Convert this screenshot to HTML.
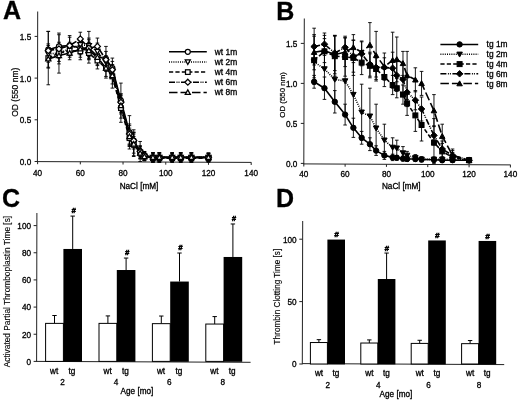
<!DOCTYPE html>
<html><head><meta charset="utf-8"><style>
html,body{margin:0;padding:0;background:#fff;}
body{width:520px;height:402px;overflow:hidden;}
svg{display:block;}
text{font-family:"Liberation Sans", sans-serif;}
body{-webkit-font-smoothing:antialiased;}
.w{will-change:transform;transform:translateZ(0);filter:blur(0.3px);}
</style></head><body><div class="w">
<svg width="520" height="402" viewBox="0 0 520 402">
<rect width="520" height="402" fill="#fff"/>
<text x="3" y="19.2" font-size="25" text-anchor="start" font-weight="bold" fill="#000" stroke="#000" stroke-width="0.3">A</text>
<line x1="37.7" y1="11.5" x2="37.4" y2="162" stroke="#222" stroke-width="1" stroke-linecap="butt"/>
<line x1="37.4" y1="161.6" x2="251.3" y2="162.4" stroke="#222" stroke-width="1" stroke-linecap="butt"/>
<line x1="34.6" y1="161.5" x2="37.6" y2="161.5" stroke="#222" stroke-width="1" stroke-linecap="butt"/>
<text x="31.2" y="164.9" font-size="8.2" text-anchor="end" font-weight="normal" fill="#000" stroke="#000" stroke-width="0.3">0.0</text>
<line x1="34.6" y1="119.8" x2="37.6" y2="119.8" stroke="#222" stroke-width="1" stroke-linecap="butt"/>
<text x="31.2" y="123.2" font-size="8.2" text-anchor="end" font-weight="normal" fill="#000" stroke="#000" stroke-width="0.3">0.5</text>
<line x1="34.6" y1="78.1" x2="37.6" y2="78.1" stroke="#222" stroke-width="1" stroke-linecap="butt"/>
<text x="31.2" y="81.5" font-size="8.2" text-anchor="end" font-weight="normal" fill="#000" stroke="#000" stroke-width="0.3">1.0</text>
<line x1="34.6" y1="36.4" x2="37.6" y2="36.4" stroke="#222" stroke-width="1" stroke-linecap="butt"/>
<text x="31.2" y="39.8" font-size="8.2" text-anchor="end" font-weight="normal" fill="#000" stroke="#000" stroke-width="0.3">1.5</text>
<line x1="37.6" y1="161.6" x2="37.6" y2="164.2" stroke="#222" stroke-width="1" stroke-linecap="butt"/>
<text x="37.6" y="175.6" font-size="8.2" text-anchor="middle" font-weight="normal" fill="#000" stroke="#000" stroke-width="0.3">40</text>
<line x1="80.32" y1="161.76" x2="80.32" y2="164.36" stroke="#222" stroke-width="1" stroke-linecap="butt"/>
<text x="80.32" y="175.6" font-size="8.2" text-anchor="middle" font-weight="normal" fill="#000" stroke="#000" stroke-width="0.3">60</text>
<line x1="123.04" y1="161.92" x2="123.04" y2="164.52" stroke="#222" stroke-width="1" stroke-linecap="butt"/>
<text x="123.04" y="175.6" font-size="8.2" text-anchor="middle" font-weight="normal" fill="#000" stroke="#000" stroke-width="0.3">80</text>
<line x1="165.76" y1="162.07" x2="165.76" y2="164.67" stroke="#222" stroke-width="1" stroke-linecap="butt"/>
<text x="165.76" y="175.6" font-size="8.2" text-anchor="middle" font-weight="normal" fill="#000" stroke="#000" stroke-width="0.3">100</text>
<line x1="208.48" y1="162.23" x2="208.48" y2="164.83" stroke="#222" stroke-width="1" stroke-linecap="butt"/>
<text x="208.48" y="175.6" font-size="8.2" text-anchor="middle" font-weight="normal" fill="#000" stroke="#000" stroke-width="0.3">120</text>
<line x1="251.2" y1="162.39" x2="251.2" y2="164.99" stroke="#222" stroke-width="1" stroke-linecap="butt"/>
<text x="251.2" y="175.6" font-size="8.2" text-anchor="middle" font-weight="normal" fill="#000" stroke="#000" stroke-width="0.3">140</text>
<text x="139" y="189" font-size="8.2" text-anchor="middle" font-weight="normal" fill="#000" stroke="#000" stroke-width="0.3">NaCl [mM]</text>
<text x="17.7" y="92.25" font-size="8.5" text-anchor="middle" font-weight="normal" fill="#000" stroke="#000" stroke-width="0.2" transform="rotate(-90 17.7 92.25)">OD (550 nm)</text>
<line x1="48.28" y1="49.74" x2="48.28" y2="31.4" stroke="#000" stroke-width="0.9" stroke-linecap="butt"/>
<line x1="46.48" y1="31.4" x2="50.08" y2="31.4" stroke="#000" stroke-width="0.9" stroke-linecap="butt"/>
<line x1="48.28" y1="49.74" x2="48.28" y2="68.09" stroke="#000" stroke-width="0.9" stroke-linecap="butt"/>
<line x1="46.48" y1="68.09" x2="50.08" y2="68.09" stroke="#000" stroke-width="0.9" stroke-linecap="butt"/>
<line x1="58.96" y1="46.41" x2="58.96" y2="34.73" stroke="#000" stroke-width="0.9" stroke-linecap="butt"/>
<line x1="57.16" y1="34.73" x2="60.76" y2="34.73" stroke="#000" stroke-width="0.9" stroke-linecap="butt"/>
<line x1="58.96" y1="46.41" x2="58.96" y2="58.08" stroke="#000" stroke-width="0.9" stroke-linecap="butt"/>
<line x1="57.16" y1="58.08" x2="60.76" y2="58.08" stroke="#000" stroke-width="0.9" stroke-linecap="butt"/>
<line x1="69.64" y1="45.57" x2="69.64" y2="37.23" stroke="#000" stroke-width="0.9" stroke-linecap="butt"/>
<line x1="67.84" y1="37.23" x2="71.44" y2="37.23" stroke="#000" stroke-width="0.9" stroke-linecap="butt"/>
<line x1="69.64" y1="45.57" x2="69.64" y2="53.91" stroke="#000" stroke-width="0.9" stroke-linecap="butt"/>
<line x1="67.84" y1="53.91" x2="71.44" y2="53.91" stroke="#000" stroke-width="0.9" stroke-linecap="butt"/>
<line x1="80.32" y1="48.08" x2="80.32" y2="41.4" stroke="#000" stroke-width="0.9" stroke-linecap="butt"/>
<line x1="78.52" y1="41.4" x2="82.12" y2="41.4" stroke="#000" stroke-width="0.9" stroke-linecap="butt"/>
<line x1="80.32" y1="48.08" x2="80.32" y2="54.75" stroke="#000" stroke-width="0.9" stroke-linecap="butt"/>
<line x1="78.52" y1="54.75" x2="82.12" y2="54.75" stroke="#000" stroke-width="0.9" stroke-linecap="butt"/>
<line x1="88.86" y1="48.08" x2="88.86" y2="38.07" stroke="#000" stroke-width="0.9" stroke-linecap="butt"/>
<line x1="87.06" y1="38.07" x2="90.66" y2="38.07" stroke="#000" stroke-width="0.9" stroke-linecap="butt"/>
<line x1="88.86" y1="48.08" x2="88.86" y2="58.08" stroke="#000" stroke-width="0.9" stroke-linecap="butt"/>
<line x1="87.06" y1="58.08" x2="90.66" y2="58.08" stroke="#000" stroke-width="0.9" stroke-linecap="butt"/>
<line x1="97.41" y1="56.42" x2="97.41" y2="48.08" stroke="#000" stroke-width="0.9" stroke-linecap="butt"/>
<line x1="95.61" y1="48.08" x2="99.21" y2="48.08" stroke="#000" stroke-width="0.9" stroke-linecap="butt"/>
<line x1="97.41" y1="56.42" x2="97.41" y2="64.76" stroke="#000" stroke-width="0.9" stroke-linecap="butt"/>
<line x1="95.61" y1="64.76" x2="99.21" y2="64.76" stroke="#000" stroke-width="0.9" stroke-linecap="butt"/>
<line x1="105.95" y1="58.92" x2="105.95" y2="46.41" stroke="#000" stroke-width="0.9" stroke-linecap="butt"/>
<line x1="104.15" y1="46.41" x2="107.75" y2="46.41" stroke="#000" stroke-width="0.9" stroke-linecap="butt"/>
<line x1="105.95" y1="58.92" x2="105.95" y2="71.43" stroke="#000" stroke-width="0.9" stroke-linecap="butt"/>
<line x1="104.15" y1="71.43" x2="107.75" y2="71.43" stroke="#000" stroke-width="0.9" stroke-linecap="butt"/>
<line x1="112.36" y1="68.09" x2="112.36" y2="58.08" stroke="#000" stroke-width="0.9" stroke-linecap="butt"/>
<line x1="110.56" y1="58.08" x2="114.16" y2="58.08" stroke="#000" stroke-width="0.9" stroke-linecap="butt"/>
<line x1="112.36" y1="68.09" x2="112.36" y2="78.1" stroke="#000" stroke-width="0.9" stroke-linecap="butt"/>
<line x1="110.56" y1="78.1" x2="114.16" y2="78.1" stroke="#000" stroke-width="0.9" stroke-linecap="butt"/>
<line x1="120.9" y1="100.62" x2="120.9" y2="83.1" stroke="#000" stroke-width="0.9" stroke-linecap="butt"/>
<line x1="119.1" y1="83.1" x2="122.7" y2="83.1" stroke="#000" stroke-width="0.9" stroke-linecap="butt"/>
<line x1="120.9" y1="100.62" x2="120.9" y2="118.13" stroke="#000" stroke-width="0.9" stroke-linecap="butt"/>
<line x1="119.1" y1="118.13" x2="122.7" y2="118.13" stroke="#000" stroke-width="0.9" stroke-linecap="butt"/>
<line x1="129.45" y1="132.31" x2="129.45" y2="115.63" stroke="#000" stroke-width="0.9" stroke-linecap="butt"/>
<line x1="127.65" y1="115.63" x2="131.25" y2="115.63" stroke="#000" stroke-width="0.9" stroke-linecap="butt"/>
<line x1="129.45" y1="132.31" x2="129.45" y2="148.99" stroke="#000" stroke-width="0.9" stroke-linecap="butt"/>
<line x1="127.65" y1="148.99" x2="131.25" y2="148.99" stroke="#000" stroke-width="0.9" stroke-linecap="butt"/>
<line x1="133.72" y1="140.65" x2="133.72" y2="133.98" stroke="#000" stroke-width="0.9" stroke-linecap="butt"/>
<line x1="131.92" y1="133.98" x2="135.52" y2="133.98" stroke="#000" stroke-width="0.9" stroke-linecap="butt"/>
<line x1="133.72" y1="140.65" x2="133.72" y2="147.32" stroke="#000" stroke-width="0.9" stroke-linecap="butt"/>
<line x1="131.92" y1="147.32" x2="135.52" y2="147.32" stroke="#000" stroke-width="0.9" stroke-linecap="butt"/>
<line x1="140.13" y1="151.49" x2="140.13" y2="146.49" stroke="#000" stroke-width="0.9" stroke-linecap="butt"/>
<line x1="138.33" y1="146.49" x2="141.93" y2="146.49" stroke="#000" stroke-width="0.9" stroke-linecap="butt"/>
<line x1="140.13" y1="151.49" x2="140.13" y2="156.5" stroke="#000" stroke-width="0.9" stroke-linecap="butt"/>
<line x1="138.33" y1="156.5" x2="141.93" y2="156.5" stroke="#000" stroke-width="0.9" stroke-linecap="butt"/>
<line x1="144.4" y1="155.66" x2="144.4" y2="151.49" stroke="#000" stroke-width="0.9" stroke-linecap="butt"/>
<line x1="142.6" y1="151.49" x2="146.2" y2="151.49" stroke="#000" stroke-width="0.9" stroke-linecap="butt"/>
<line x1="144.4" y1="155.66" x2="144.4" y2="159.83" stroke="#000" stroke-width="0.9" stroke-linecap="butt"/>
<line x1="142.6" y1="159.83" x2="146.2" y2="159.83" stroke="#000" stroke-width="0.9" stroke-linecap="butt"/>
<line x1="152.94" y1="157.33" x2="152.94" y2="152.74" stroke="#000" stroke-width="0.9" stroke-linecap="butt"/>
<line x1="151.14" y1="152.74" x2="154.74" y2="152.74" stroke="#000" stroke-width="0.9" stroke-linecap="butt"/>
<line x1="152.94" y1="157.33" x2="152.94" y2="161.92" stroke="#000" stroke-width="0.9" stroke-linecap="butt"/>
<line x1="151.14" y1="161.92" x2="154.74" y2="161.92" stroke="#000" stroke-width="0.9" stroke-linecap="butt"/>
<line x1="159.35" y1="157.33" x2="159.35" y2="152.74" stroke="#000" stroke-width="0.9" stroke-linecap="butt"/>
<line x1="157.55" y1="152.74" x2="161.15" y2="152.74" stroke="#000" stroke-width="0.9" stroke-linecap="butt"/>
<line x1="159.35" y1="157.33" x2="159.35" y2="161.92" stroke="#000" stroke-width="0.9" stroke-linecap="butt"/>
<line x1="157.55" y1="161.92" x2="161.15" y2="161.92" stroke="#000" stroke-width="0.9" stroke-linecap="butt"/>
<line x1="172.17" y1="157.33" x2="172.17" y2="153.16" stroke="#000" stroke-width="0.9" stroke-linecap="butt"/>
<line x1="170.37" y1="153.16" x2="173.97" y2="153.16" stroke="#000" stroke-width="0.9" stroke-linecap="butt"/>
<line x1="172.17" y1="157.33" x2="172.17" y2="161.5" stroke="#000" stroke-width="0.9" stroke-linecap="butt"/>
<line x1="170.37" y1="161.5" x2="173.97" y2="161.5" stroke="#000" stroke-width="0.9" stroke-linecap="butt"/>
<line x1="180.71" y1="157.33" x2="180.71" y2="152.74" stroke="#000" stroke-width="0.9" stroke-linecap="butt"/>
<line x1="178.91" y1="152.74" x2="182.51" y2="152.74" stroke="#000" stroke-width="0.9" stroke-linecap="butt"/>
<line x1="180.71" y1="157.33" x2="180.71" y2="161.92" stroke="#000" stroke-width="0.9" stroke-linecap="butt"/>
<line x1="178.91" y1="161.92" x2="182.51" y2="161.92" stroke="#000" stroke-width="0.9" stroke-linecap="butt"/>
<line x1="191.39" y1="157.33" x2="191.39" y2="152.74" stroke="#000" stroke-width="0.9" stroke-linecap="butt"/>
<line x1="189.59" y1="152.74" x2="193.19" y2="152.74" stroke="#000" stroke-width="0.9" stroke-linecap="butt"/>
<line x1="191.39" y1="157.33" x2="191.39" y2="161.92" stroke="#000" stroke-width="0.9" stroke-linecap="butt"/>
<line x1="189.59" y1="161.92" x2="193.19" y2="161.92" stroke="#000" stroke-width="0.9" stroke-linecap="butt"/>
<line x1="208.48" y1="157.33" x2="208.48" y2="153.16" stroke="#000" stroke-width="0.9" stroke-linecap="butt"/>
<line x1="206.68" y1="153.16" x2="210.28" y2="153.16" stroke="#000" stroke-width="0.9" stroke-linecap="butt"/>
<line x1="208.48" y1="157.33" x2="208.48" y2="161.5" stroke="#000" stroke-width="0.9" stroke-linecap="butt"/>
<line x1="206.68" y1="161.5" x2="210.28" y2="161.5" stroke="#000" stroke-width="0.9" stroke-linecap="butt"/>
<line x1="48.28" y1="53.91" x2="48.28" y2="45.57" stroke="#000" stroke-width="0.9" stroke-linecap="butt"/>
<line x1="46.48" y1="45.57" x2="50.08" y2="45.57" stroke="#000" stroke-width="0.9" stroke-linecap="butt"/>
<line x1="48.28" y1="53.91" x2="48.28" y2="62.25" stroke="#000" stroke-width="0.9" stroke-linecap="butt"/>
<line x1="46.48" y1="62.25" x2="50.08" y2="62.25" stroke="#000" stroke-width="0.9" stroke-linecap="butt"/>
<line x1="58.96" y1="53.08" x2="58.96" y2="44.74" stroke="#000" stroke-width="0.9" stroke-linecap="butt"/>
<line x1="57.16" y1="44.74" x2="60.76" y2="44.74" stroke="#000" stroke-width="0.9" stroke-linecap="butt"/>
<line x1="58.96" y1="53.08" x2="58.96" y2="61.42" stroke="#000" stroke-width="0.9" stroke-linecap="butt"/>
<line x1="57.16" y1="61.42" x2="60.76" y2="61.42" stroke="#000" stroke-width="0.9" stroke-linecap="butt"/>
<line x1="69.64" y1="48.91" x2="69.64" y2="42.24" stroke="#000" stroke-width="0.9" stroke-linecap="butt"/>
<line x1="67.84" y1="42.24" x2="71.44" y2="42.24" stroke="#000" stroke-width="0.9" stroke-linecap="butt"/>
<line x1="69.64" y1="48.91" x2="69.64" y2="55.58" stroke="#000" stroke-width="0.9" stroke-linecap="butt"/>
<line x1="67.84" y1="55.58" x2="71.44" y2="55.58" stroke="#000" stroke-width="0.9" stroke-linecap="butt"/>
<line x1="80.32" y1="44.74" x2="80.32" y2="38.07" stroke="#000" stroke-width="0.9" stroke-linecap="butt"/>
<line x1="78.52" y1="38.07" x2="82.12" y2="38.07" stroke="#000" stroke-width="0.9" stroke-linecap="butt"/>
<line x1="80.32" y1="44.74" x2="80.32" y2="51.41" stroke="#000" stroke-width="0.9" stroke-linecap="butt"/>
<line x1="78.52" y1="51.41" x2="82.12" y2="51.41" stroke="#000" stroke-width="0.9" stroke-linecap="butt"/>
<line x1="88.86" y1="45.57" x2="88.86" y2="31.4" stroke="#000" stroke-width="0.9" stroke-linecap="butt"/>
<line x1="87.06" y1="31.4" x2="90.66" y2="31.4" stroke="#000" stroke-width="0.9" stroke-linecap="butt"/>
<line x1="88.86" y1="45.57" x2="88.86" y2="59.75" stroke="#000" stroke-width="0.9" stroke-linecap="butt"/>
<line x1="87.06" y1="59.75" x2="90.66" y2="59.75" stroke="#000" stroke-width="0.9" stroke-linecap="butt"/>
<line x1="97.41" y1="51.41" x2="97.41" y2="43.07" stroke="#000" stroke-width="0.9" stroke-linecap="butt"/>
<line x1="95.61" y1="43.07" x2="99.21" y2="43.07" stroke="#000" stroke-width="0.9" stroke-linecap="butt"/>
<line x1="97.41" y1="51.41" x2="97.41" y2="59.75" stroke="#000" stroke-width="0.9" stroke-linecap="butt"/>
<line x1="95.61" y1="59.75" x2="99.21" y2="59.75" stroke="#000" stroke-width="0.9" stroke-linecap="butt"/>
<line x1="105.95" y1="62.25" x2="105.95" y2="55.58" stroke="#000" stroke-width="0.9" stroke-linecap="butt"/>
<line x1="104.15" y1="55.58" x2="107.75" y2="55.58" stroke="#000" stroke-width="0.9" stroke-linecap="butt"/>
<line x1="105.95" y1="62.25" x2="105.95" y2="68.93" stroke="#000" stroke-width="0.9" stroke-linecap="butt"/>
<line x1="104.15" y1="68.93" x2="107.75" y2="68.93" stroke="#000" stroke-width="0.9" stroke-linecap="butt"/>
<line x1="112.36" y1="71.43" x2="112.36" y2="64.76" stroke="#000" stroke-width="0.9" stroke-linecap="butt"/>
<line x1="110.56" y1="64.76" x2="114.16" y2="64.76" stroke="#000" stroke-width="0.9" stroke-linecap="butt"/>
<line x1="112.36" y1="71.43" x2="112.36" y2="78.1" stroke="#000" stroke-width="0.9" stroke-linecap="butt"/>
<line x1="110.56" y1="78.1" x2="114.16" y2="78.1" stroke="#000" stroke-width="0.9" stroke-linecap="butt"/>
<line x1="120.9" y1="103.95" x2="120.9" y2="95.61" stroke="#000" stroke-width="0.9" stroke-linecap="butt"/>
<line x1="119.1" y1="95.61" x2="122.7" y2="95.61" stroke="#000" stroke-width="0.9" stroke-linecap="butt"/>
<line x1="120.9" y1="103.95" x2="120.9" y2="112.29" stroke="#000" stroke-width="0.9" stroke-linecap="butt"/>
<line x1="119.1" y1="112.29" x2="122.7" y2="112.29" stroke="#000" stroke-width="0.9" stroke-linecap="butt"/>
<line x1="129.45" y1="135.65" x2="129.45" y2="125.64" stroke="#000" stroke-width="0.9" stroke-linecap="butt"/>
<line x1="127.65" y1="125.64" x2="131.25" y2="125.64" stroke="#000" stroke-width="0.9" stroke-linecap="butt"/>
<line x1="129.45" y1="135.65" x2="129.45" y2="145.65" stroke="#000" stroke-width="0.9" stroke-linecap="butt"/>
<line x1="127.65" y1="145.65" x2="131.25" y2="145.65" stroke="#000" stroke-width="0.9" stroke-linecap="butt"/>
<line x1="133.72" y1="143.15" x2="133.72" y2="129.81" stroke="#000" stroke-width="0.9" stroke-linecap="butt"/>
<line x1="131.92" y1="129.81" x2="135.52" y2="129.81" stroke="#000" stroke-width="0.9" stroke-linecap="butt"/>
<line x1="133.72" y1="143.15" x2="133.72" y2="156.5" stroke="#000" stroke-width="0.9" stroke-linecap="butt"/>
<line x1="131.92" y1="156.5" x2="135.52" y2="156.5" stroke="#000" stroke-width="0.9" stroke-linecap="butt"/>
<line x1="140.13" y1="152.33" x2="140.13" y2="145.65" stroke="#000" stroke-width="0.9" stroke-linecap="butt"/>
<line x1="138.33" y1="145.65" x2="141.93" y2="145.65" stroke="#000" stroke-width="0.9" stroke-linecap="butt"/>
<line x1="140.13" y1="152.33" x2="140.13" y2="159" stroke="#000" stroke-width="0.9" stroke-linecap="butt"/>
<line x1="138.33" y1="159" x2="141.93" y2="159" stroke="#000" stroke-width="0.9" stroke-linecap="butt"/>
<line x1="144.4" y1="156.5" x2="144.4" y2="152.33" stroke="#000" stroke-width="0.9" stroke-linecap="butt"/>
<line x1="142.6" y1="152.33" x2="146.2" y2="152.33" stroke="#000" stroke-width="0.9" stroke-linecap="butt"/>
<line x1="144.4" y1="156.5" x2="144.4" y2="160.67" stroke="#000" stroke-width="0.9" stroke-linecap="butt"/>
<line x1="142.6" y1="160.67" x2="146.2" y2="160.67" stroke="#000" stroke-width="0.9" stroke-linecap="butt"/>
<line x1="152.94" y1="157.33" x2="152.94" y2="152.74" stroke="#000" stroke-width="0.9" stroke-linecap="butt"/>
<line x1="151.14" y1="152.74" x2="154.74" y2="152.74" stroke="#000" stroke-width="0.9" stroke-linecap="butt"/>
<line x1="152.94" y1="157.33" x2="152.94" y2="161.92" stroke="#000" stroke-width="0.9" stroke-linecap="butt"/>
<line x1="151.14" y1="161.92" x2="154.74" y2="161.92" stroke="#000" stroke-width="0.9" stroke-linecap="butt"/>
<line x1="159.35" y1="157.33" x2="159.35" y2="152.74" stroke="#000" stroke-width="0.9" stroke-linecap="butt"/>
<line x1="157.55" y1="152.74" x2="161.15" y2="152.74" stroke="#000" stroke-width="0.9" stroke-linecap="butt"/>
<line x1="159.35" y1="157.33" x2="159.35" y2="161.92" stroke="#000" stroke-width="0.9" stroke-linecap="butt"/>
<line x1="157.55" y1="161.92" x2="161.15" y2="161.92" stroke="#000" stroke-width="0.9" stroke-linecap="butt"/>
<line x1="172.17" y1="157.33" x2="172.17" y2="152.74" stroke="#000" stroke-width="0.9" stroke-linecap="butt"/>
<line x1="170.37" y1="152.74" x2="173.97" y2="152.74" stroke="#000" stroke-width="0.9" stroke-linecap="butt"/>
<line x1="172.17" y1="157.33" x2="172.17" y2="161.92" stroke="#000" stroke-width="0.9" stroke-linecap="butt"/>
<line x1="170.37" y1="161.92" x2="173.97" y2="161.92" stroke="#000" stroke-width="0.9" stroke-linecap="butt"/>
<line x1="180.71" y1="157.33" x2="180.71" y2="152.74" stroke="#000" stroke-width="0.9" stroke-linecap="butt"/>
<line x1="178.91" y1="152.74" x2="182.51" y2="152.74" stroke="#000" stroke-width="0.9" stroke-linecap="butt"/>
<line x1="180.71" y1="157.33" x2="180.71" y2="161.92" stroke="#000" stroke-width="0.9" stroke-linecap="butt"/>
<line x1="178.91" y1="161.92" x2="182.51" y2="161.92" stroke="#000" stroke-width="0.9" stroke-linecap="butt"/>
<line x1="191.39" y1="157.33" x2="191.39" y2="152.74" stroke="#000" stroke-width="0.9" stroke-linecap="butt"/>
<line x1="189.59" y1="152.74" x2="193.19" y2="152.74" stroke="#000" stroke-width="0.9" stroke-linecap="butt"/>
<line x1="191.39" y1="157.33" x2="191.39" y2="161.92" stroke="#000" stroke-width="0.9" stroke-linecap="butt"/>
<line x1="189.59" y1="161.92" x2="193.19" y2="161.92" stroke="#000" stroke-width="0.9" stroke-linecap="butt"/>
<line x1="208.48" y1="157.33" x2="208.48" y2="153.16" stroke="#000" stroke-width="0.9" stroke-linecap="butt"/>
<line x1="206.68" y1="153.16" x2="210.28" y2="153.16" stroke="#000" stroke-width="0.9" stroke-linecap="butt"/>
<line x1="208.48" y1="157.33" x2="208.48" y2="161.5" stroke="#000" stroke-width="0.9" stroke-linecap="butt"/>
<line x1="206.68" y1="161.5" x2="210.28" y2="161.5" stroke="#000" stroke-width="0.9" stroke-linecap="butt"/>
<line x1="48.28" y1="58.08" x2="48.28" y2="31.4" stroke="#000" stroke-width="0.9" stroke-linecap="butt"/>
<line x1="46.48" y1="31.4" x2="50.08" y2="31.4" stroke="#000" stroke-width="0.9" stroke-linecap="butt"/>
<line x1="48.28" y1="58.08" x2="48.28" y2="84.77" stroke="#000" stroke-width="0.9" stroke-linecap="butt"/>
<line x1="46.48" y1="84.77" x2="50.08" y2="84.77" stroke="#000" stroke-width="0.9" stroke-linecap="butt"/>
<line x1="58.96" y1="53.08" x2="58.96" y2="33.06" stroke="#000" stroke-width="0.9" stroke-linecap="butt"/>
<line x1="57.16" y1="33.06" x2="60.76" y2="33.06" stroke="#000" stroke-width="0.9" stroke-linecap="butt"/>
<line x1="58.96" y1="53.08" x2="58.96" y2="73.1" stroke="#000" stroke-width="0.9" stroke-linecap="butt"/>
<line x1="57.16" y1="73.1" x2="60.76" y2="73.1" stroke="#000" stroke-width="0.9" stroke-linecap="butt"/>
<line x1="69.64" y1="50.58" x2="69.64" y2="43.91" stroke="#000" stroke-width="0.9" stroke-linecap="butt"/>
<line x1="67.84" y1="43.91" x2="71.44" y2="43.91" stroke="#000" stroke-width="0.9" stroke-linecap="butt"/>
<line x1="69.64" y1="50.58" x2="69.64" y2="57.25" stroke="#000" stroke-width="0.9" stroke-linecap="butt"/>
<line x1="67.84" y1="57.25" x2="71.44" y2="57.25" stroke="#000" stroke-width="0.9" stroke-linecap="butt"/>
<line x1="80.32" y1="51.41" x2="80.32" y2="43.07" stroke="#000" stroke-width="0.9" stroke-linecap="butt"/>
<line x1="78.52" y1="43.07" x2="82.12" y2="43.07" stroke="#000" stroke-width="0.9" stroke-linecap="butt"/>
<line x1="80.32" y1="51.41" x2="80.32" y2="59.75" stroke="#000" stroke-width="0.9" stroke-linecap="butt"/>
<line x1="78.52" y1="59.75" x2="82.12" y2="59.75" stroke="#000" stroke-width="0.9" stroke-linecap="butt"/>
<line x1="88.86" y1="53.08" x2="88.86" y2="43.07" stroke="#000" stroke-width="0.9" stroke-linecap="butt"/>
<line x1="87.06" y1="43.07" x2="90.66" y2="43.07" stroke="#000" stroke-width="0.9" stroke-linecap="butt"/>
<line x1="88.86" y1="53.08" x2="88.86" y2="63.09" stroke="#000" stroke-width="0.9" stroke-linecap="butt"/>
<line x1="87.06" y1="63.09" x2="90.66" y2="63.09" stroke="#000" stroke-width="0.9" stroke-linecap="butt"/>
<line x1="97.41" y1="60.59" x2="97.41" y2="52.25" stroke="#000" stroke-width="0.9" stroke-linecap="butt"/>
<line x1="95.61" y1="52.25" x2="99.21" y2="52.25" stroke="#000" stroke-width="0.9" stroke-linecap="butt"/>
<line x1="97.41" y1="60.59" x2="97.41" y2="68.93" stroke="#000" stroke-width="0.9" stroke-linecap="butt"/>
<line x1="95.61" y1="68.93" x2="99.21" y2="68.93" stroke="#000" stroke-width="0.9" stroke-linecap="butt"/>
<line x1="105.95" y1="68.09" x2="105.95" y2="58.08" stroke="#000" stroke-width="0.9" stroke-linecap="butt"/>
<line x1="104.15" y1="58.08" x2="107.75" y2="58.08" stroke="#000" stroke-width="0.9" stroke-linecap="butt"/>
<line x1="105.95" y1="68.09" x2="105.95" y2="78.1" stroke="#000" stroke-width="0.9" stroke-linecap="butt"/>
<line x1="104.15" y1="78.1" x2="107.75" y2="78.1" stroke="#000" stroke-width="0.9" stroke-linecap="butt"/>
<line x1="112.36" y1="76.43" x2="112.36" y2="64.76" stroke="#000" stroke-width="0.9" stroke-linecap="butt"/>
<line x1="110.56" y1="64.76" x2="114.16" y2="64.76" stroke="#000" stroke-width="0.9" stroke-linecap="butt"/>
<line x1="112.36" y1="76.43" x2="112.36" y2="88.11" stroke="#000" stroke-width="0.9" stroke-linecap="butt"/>
<line x1="110.56" y1="88.11" x2="114.16" y2="88.11" stroke="#000" stroke-width="0.9" stroke-linecap="butt"/>
<line x1="120.9" y1="108.12" x2="120.9" y2="93.95" stroke="#000" stroke-width="0.9" stroke-linecap="butt"/>
<line x1="119.1" y1="93.95" x2="122.7" y2="93.95" stroke="#000" stroke-width="0.9" stroke-linecap="butt"/>
<line x1="120.9" y1="108.12" x2="120.9" y2="122.3" stroke="#000" stroke-width="0.9" stroke-linecap="butt"/>
<line x1="119.1" y1="122.3" x2="122.7" y2="122.3" stroke="#000" stroke-width="0.9" stroke-linecap="butt"/>
<line x1="129.45" y1="138.15" x2="129.45" y2="129.81" stroke="#000" stroke-width="0.9" stroke-linecap="butt"/>
<line x1="127.65" y1="129.81" x2="131.25" y2="129.81" stroke="#000" stroke-width="0.9" stroke-linecap="butt"/>
<line x1="129.45" y1="138.15" x2="129.45" y2="146.49" stroke="#000" stroke-width="0.9" stroke-linecap="butt"/>
<line x1="127.65" y1="146.49" x2="131.25" y2="146.49" stroke="#000" stroke-width="0.9" stroke-linecap="butt"/>
<line x1="133.72" y1="144.82" x2="133.72" y2="136.48" stroke="#000" stroke-width="0.9" stroke-linecap="butt"/>
<line x1="131.92" y1="136.48" x2="135.52" y2="136.48" stroke="#000" stroke-width="0.9" stroke-linecap="butt"/>
<line x1="133.72" y1="144.82" x2="133.72" y2="153.16" stroke="#000" stroke-width="0.9" stroke-linecap="butt"/>
<line x1="131.92" y1="153.16" x2="135.52" y2="153.16" stroke="#000" stroke-width="0.9" stroke-linecap="butt"/>
<line x1="140.13" y1="153.16" x2="140.13" y2="148.16" stroke="#000" stroke-width="0.9" stroke-linecap="butt"/>
<line x1="138.33" y1="148.16" x2="141.93" y2="148.16" stroke="#000" stroke-width="0.9" stroke-linecap="butt"/>
<line x1="140.13" y1="153.16" x2="140.13" y2="158.16" stroke="#000" stroke-width="0.9" stroke-linecap="butt"/>
<line x1="138.33" y1="158.16" x2="141.93" y2="158.16" stroke="#000" stroke-width="0.9" stroke-linecap="butt"/>
<line x1="144.4" y1="156.5" x2="144.4" y2="152.33" stroke="#000" stroke-width="0.9" stroke-linecap="butt"/>
<line x1="142.6" y1="152.33" x2="146.2" y2="152.33" stroke="#000" stroke-width="0.9" stroke-linecap="butt"/>
<line x1="144.4" y1="156.5" x2="144.4" y2="160.67" stroke="#000" stroke-width="0.9" stroke-linecap="butt"/>
<line x1="142.6" y1="160.67" x2="146.2" y2="160.67" stroke="#000" stroke-width="0.9" stroke-linecap="butt"/>
<line x1="152.94" y1="158.16" x2="152.94" y2="153.99" stroke="#000" stroke-width="0.9" stroke-linecap="butt"/>
<line x1="151.14" y1="153.99" x2="154.74" y2="153.99" stroke="#000" stroke-width="0.9" stroke-linecap="butt"/>
<line x1="152.94" y1="158.16" x2="152.94" y2="162.33" stroke="#000" stroke-width="0.9" stroke-linecap="butt"/>
<line x1="151.14" y1="162.33" x2="154.74" y2="162.33" stroke="#000" stroke-width="0.9" stroke-linecap="butt"/>
<line x1="159.35" y1="158.16" x2="159.35" y2="153.99" stroke="#000" stroke-width="0.9" stroke-linecap="butt"/>
<line x1="157.55" y1="153.99" x2="161.15" y2="153.99" stroke="#000" stroke-width="0.9" stroke-linecap="butt"/>
<line x1="159.35" y1="158.16" x2="159.35" y2="162.33" stroke="#000" stroke-width="0.9" stroke-linecap="butt"/>
<line x1="157.55" y1="162.33" x2="161.15" y2="162.33" stroke="#000" stroke-width="0.9" stroke-linecap="butt"/>
<line x1="172.17" y1="158.16" x2="172.17" y2="153.99" stroke="#000" stroke-width="0.9" stroke-linecap="butt"/>
<line x1="170.37" y1="153.99" x2="173.97" y2="153.99" stroke="#000" stroke-width="0.9" stroke-linecap="butt"/>
<line x1="172.17" y1="158.16" x2="172.17" y2="162.33" stroke="#000" stroke-width="0.9" stroke-linecap="butt"/>
<line x1="170.37" y1="162.33" x2="173.97" y2="162.33" stroke="#000" stroke-width="0.9" stroke-linecap="butt"/>
<line x1="180.71" y1="158.16" x2="180.71" y2="153.99" stroke="#000" stroke-width="0.9" stroke-linecap="butt"/>
<line x1="178.91" y1="153.99" x2="182.51" y2="153.99" stroke="#000" stroke-width="0.9" stroke-linecap="butt"/>
<line x1="180.71" y1="158.16" x2="180.71" y2="162.33" stroke="#000" stroke-width="0.9" stroke-linecap="butt"/>
<line x1="178.91" y1="162.33" x2="182.51" y2="162.33" stroke="#000" stroke-width="0.9" stroke-linecap="butt"/>
<line x1="191.39" y1="158.16" x2="191.39" y2="153.99" stroke="#000" stroke-width="0.9" stroke-linecap="butt"/>
<line x1="189.59" y1="153.99" x2="193.19" y2="153.99" stroke="#000" stroke-width="0.9" stroke-linecap="butt"/>
<line x1="191.39" y1="158.16" x2="191.39" y2="162.33" stroke="#000" stroke-width="0.9" stroke-linecap="butt"/>
<line x1="189.59" y1="162.33" x2="193.19" y2="162.33" stroke="#000" stroke-width="0.9" stroke-linecap="butt"/>
<line x1="208.48" y1="158.16" x2="208.48" y2="153.99" stroke="#000" stroke-width="0.9" stroke-linecap="butt"/>
<line x1="206.68" y1="153.99" x2="210.28" y2="153.99" stroke="#000" stroke-width="0.9" stroke-linecap="butt"/>
<line x1="208.48" y1="158.16" x2="208.48" y2="162.33" stroke="#000" stroke-width="0.9" stroke-linecap="butt"/>
<line x1="206.68" y1="162.33" x2="210.28" y2="162.33" stroke="#000" stroke-width="0.9" stroke-linecap="butt"/>
<line x1="48.28" y1="50.58" x2="48.28" y2="43.91" stroke="#000" stroke-width="0.9" stroke-linecap="butt"/>
<line x1="46.48" y1="43.91" x2="50.08" y2="43.91" stroke="#000" stroke-width="0.9" stroke-linecap="butt"/>
<line x1="48.28" y1="50.58" x2="48.28" y2="57.25" stroke="#000" stroke-width="0.9" stroke-linecap="butt"/>
<line x1="46.48" y1="57.25" x2="50.08" y2="57.25" stroke="#000" stroke-width="0.9" stroke-linecap="butt"/>
<line x1="58.96" y1="48.91" x2="58.96" y2="42.24" stroke="#000" stroke-width="0.9" stroke-linecap="butt"/>
<line x1="57.16" y1="42.24" x2="60.76" y2="42.24" stroke="#000" stroke-width="0.9" stroke-linecap="butt"/>
<line x1="58.96" y1="48.91" x2="58.96" y2="55.58" stroke="#000" stroke-width="0.9" stroke-linecap="butt"/>
<line x1="57.16" y1="55.58" x2="60.76" y2="55.58" stroke="#000" stroke-width="0.9" stroke-linecap="butt"/>
<line x1="69.64" y1="45.57" x2="69.64" y2="35.57" stroke="#000" stroke-width="0.9" stroke-linecap="butt"/>
<line x1="67.84" y1="35.57" x2="71.44" y2="35.57" stroke="#000" stroke-width="0.9" stroke-linecap="butt"/>
<line x1="69.64" y1="45.57" x2="69.64" y2="55.58" stroke="#000" stroke-width="0.9" stroke-linecap="butt"/>
<line x1="67.84" y1="55.58" x2="71.44" y2="55.58" stroke="#000" stroke-width="0.9" stroke-linecap="butt"/>
<line x1="80.32" y1="38.9" x2="80.32" y2="32.23" stroke="#000" stroke-width="0.9" stroke-linecap="butt"/>
<line x1="78.52" y1="32.23" x2="82.12" y2="32.23" stroke="#000" stroke-width="0.9" stroke-linecap="butt"/>
<line x1="80.32" y1="38.9" x2="80.32" y2="45.57" stroke="#000" stroke-width="0.9" stroke-linecap="butt"/>
<line x1="78.52" y1="45.57" x2="82.12" y2="45.57" stroke="#000" stroke-width="0.9" stroke-linecap="butt"/>
<line x1="88.86" y1="48.08" x2="88.86" y2="39.74" stroke="#000" stroke-width="0.9" stroke-linecap="butt"/>
<line x1="87.06" y1="39.74" x2="90.66" y2="39.74" stroke="#000" stroke-width="0.9" stroke-linecap="butt"/>
<line x1="88.86" y1="48.08" x2="88.86" y2="56.42" stroke="#000" stroke-width="0.9" stroke-linecap="butt"/>
<line x1="87.06" y1="56.42" x2="90.66" y2="56.42" stroke="#000" stroke-width="0.9" stroke-linecap="butt"/>
<line x1="97.41" y1="46.41" x2="97.41" y2="38.07" stroke="#000" stroke-width="0.9" stroke-linecap="butt"/>
<line x1="95.61" y1="38.07" x2="99.21" y2="38.07" stroke="#000" stroke-width="0.9" stroke-linecap="butt"/>
<line x1="97.41" y1="46.41" x2="97.41" y2="54.75" stroke="#000" stroke-width="0.9" stroke-linecap="butt"/>
<line x1="95.61" y1="54.75" x2="99.21" y2="54.75" stroke="#000" stroke-width="0.9" stroke-linecap="butt"/>
<line x1="105.95" y1="59.75" x2="105.95" y2="51.41" stroke="#000" stroke-width="0.9" stroke-linecap="butt"/>
<line x1="104.15" y1="51.41" x2="107.75" y2="51.41" stroke="#000" stroke-width="0.9" stroke-linecap="butt"/>
<line x1="105.95" y1="59.75" x2="105.95" y2="68.09" stroke="#000" stroke-width="0.9" stroke-linecap="butt"/>
<line x1="104.15" y1="68.09" x2="107.75" y2="68.09" stroke="#000" stroke-width="0.9" stroke-linecap="butt"/>
<line x1="112.36" y1="69.76" x2="112.36" y2="61.42" stroke="#000" stroke-width="0.9" stroke-linecap="butt"/>
<line x1="110.56" y1="61.42" x2="114.16" y2="61.42" stroke="#000" stroke-width="0.9" stroke-linecap="butt"/>
<line x1="112.36" y1="69.76" x2="112.36" y2="78.1" stroke="#000" stroke-width="0.9" stroke-linecap="butt"/>
<line x1="110.56" y1="78.1" x2="114.16" y2="78.1" stroke="#000" stroke-width="0.9" stroke-linecap="butt"/>
<line x1="120.9" y1="102.29" x2="120.9" y2="93.95" stroke="#000" stroke-width="0.9" stroke-linecap="butt"/>
<line x1="119.1" y1="93.95" x2="122.7" y2="93.95" stroke="#000" stroke-width="0.9" stroke-linecap="butt"/>
<line x1="120.9" y1="102.29" x2="120.9" y2="110.63" stroke="#000" stroke-width="0.9" stroke-linecap="butt"/>
<line x1="119.1" y1="110.63" x2="122.7" y2="110.63" stroke="#000" stroke-width="0.9" stroke-linecap="butt"/>
<line x1="129.45" y1="133.98" x2="129.45" y2="123.97" stroke="#000" stroke-width="0.9" stroke-linecap="butt"/>
<line x1="127.65" y1="123.97" x2="131.25" y2="123.97" stroke="#000" stroke-width="0.9" stroke-linecap="butt"/>
<line x1="129.45" y1="133.98" x2="129.45" y2="143.99" stroke="#000" stroke-width="0.9" stroke-linecap="butt"/>
<line x1="127.65" y1="143.99" x2="131.25" y2="143.99" stroke="#000" stroke-width="0.9" stroke-linecap="butt"/>
<line x1="133.72" y1="140.65" x2="133.72" y2="132.31" stroke="#000" stroke-width="0.9" stroke-linecap="butt"/>
<line x1="131.92" y1="132.31" x2="135.52" y2="132.31" stroke="#000" stroke-width="0.9" stroke-linecap="butt"/>
<line x1="133.72" y1="140.65" x2="133.72" y2="148.99" stroke="#000" stroke-width="0.9" stroke-linecap="butt"/>
<line x1="131.92" y1="148.99" x2="135.52" y2="148.99" stroke="#000" stroke-width="0.9" stroke-linecap="butt"/>
<line x1="140.13" y1="151.49" x2="140.13" y2="141.48" stroke="#000" stroke-width="0.9" stroke-linecap="butt"/>
<line x1="138.33" y1="141.48" x2="141.93" y2="141.48" stroke="#000" stroke-width="0.9" stroke-linecap="butt"/>
<line x1="140.13" y1="151.49" x2="140.13" y2="161.5" stroke="#000" stroke-width="0.9" stroke-linecap="butt"/>
<line x1="138.33" y1="161.5" x2="141.93" y2="161.5" stroke="#000" stroke-width="0.9" stroke-linecap="butt"/>
<line x1="144.4" y1="155.66" x2="144.4" y2="151.49" stroke="#000" stroke-width="0.9" stroke-linecap="butt"/>
<line x1="142.6" y1="151.49" x2="146.2" y2="151.49" stroke="#000" stroke-width="0.9" stroke-linecap="butt"/>
<line x1="144.4" y1="155.66" x2="144.4" y2="159.83" stroke="#000" stroke-width="0.9" stroke-linecap="butt"/>
<line x1="142.6" y1="159.83" x2="146.2" y2="159.83" stroke="#000" stroke-width="0.9" stroke-linecap="butt"/>
<line x1="152.94" y1="157.33" x2="152.94" y2="152.74" stroke="#000" stroke-width="0.9" stroke-linecap="butt"/>
<line x1="151.14" y1="152.74" x2="154.74" y2="152.74" stroke="#000" stroke-width="0.9" stroke-linecap="butt"/>
<line x1="152.94" y1="157.33" x2="152.94" y2="161.92" stroke="#000" stroke-width="0.9" stroke-linecap="butt"/>
<line x1="151.14" y1="161.92" x2="154.74" y2="161.92" stroke="#000" stroke-width="0.9" stroke-linecap="butt"/>
<line x1="159.35" y1="157.33" x2="159.35" y2="152.74" stroke="#000" stroke-width="0.9" stroke-linecap="butt"/>
<line x1="157.55" y1="152.74" x2="161.15" y2="152.74" stroke="#000" stroke-width="0.9" stroke-linecap="butt"/>
<line x1="159.35" y1="157.33" x2="159.35" y2="161.92" stroke="#000" stroke-width="0.9" stroke-linecap="butt"/>
<line x1="157.55" y1="161.92" x2="161.15" y2="161.92" stroke="#000" stroke-width="0.9" stroke-linecap="butt"/>
<line x1="172.17" y1="157.33" x2="172.17" y2="152.74" stroke="#000" stroke-width="0.9" stroke-linecap="butt"/>
<line x1="170.37" y1="152.74" x2="173.97" y2="152.74" stroke="#000" stroke-width="0.9" stroke-linecap="butt"/>
<line x1="172.17" y1="157.33" x2="172.17" y2="161.92" stroke="#000" stroke-width="0.9" stroke-linecap="butt"/>
<line x1="170.37" y1="161.92" x2="173.97" y2="161.92" stroke="#000" stroke-width="0.9" stroke-linecap="butt"/>
<line x1="180.71" y1="157.33" x2="180.71" y2="152.74" stroke="#000" stroke-width="0.9" stroke-linecap="butt"/>
<line x1="178.91" y1="152.74" x2="182.51" y2="152.74" stroke="#000" stroke-width="0.9" stroke-linecap="butt"/>
<line x1="180.71" y1="157.33" x2="180.71" y2="161.92" stroke="#000" stroke-width="0.9" stroke-linecap="butt"/>
<line x1="178.91" y1="161.92" x2="182.51" y2="161.92" stroke="#000" stroke-width="0.9" stroke-linecap="butt"/>
<line x1="191.39" y1="157.33" x2="191.39" y2="152.74" stroke="#000" stroke-width="0.9" stroke-linecap="butt"/>
<line x1="189.59" y1="152.74" x2="193.19" y2="152.74" stroke="#000" stroke-width="0.9" stroke-linecap="butt"/>
<line x1="191.39" y1="157.33" x2="191.39" y2="161.92" stroke="#000" stroke-width="0.9" stroke-linecap="butt"/>
<line x1="189.59" y1="161.92" x2="193.19" y2="161.92" stroke="#000" stroke-width="0.9" stroke-linecap="butt"/>
<line x1="208.48" y1="157.33" x2="208.48" y2="153.16" stroke="#000" stroke-width="0.9" stroke-linecap="butt"/>
<line x1="206.68" y1="153.16" x2="210.28" y2="153.16" stroke="#000" stroke-width="0.9" stroke-linecap="butt"/>
<line x1="208.48" y1="157.33" x2="208.48" y2="161.5" stroke="#000" stroke-width="0.9" stroke-linecap="butt"/>
<line x1="206.68" y1="161.5" x2="210.28" y2="161.5" stroke="#000" stroke-width="0.9" stroke-linecap="butt"/>
<line x1="48.28" y1="58.92" x2="48.28" y2="50.58" stroke="#000" stroke-width="0.9" stroke-linecap="butt"/>
<line x1="46.48" y1="50.58" x2="50.08" y2="50.58" stroke="#000" stroke-width="0.9" stroke-linecap="butt"/>
<line x1="48.28" y1="58.92" x2="48.28" y2="67.26" stroke="#000" stroke-width="0.9" stroke-linecap="butt"/>
<line x1="46.48" y1="67.26" x2="50.08" y2="67.26" stroke="#000" stroke-width="0.9" stroke-linecap="butt"/>
<line x1="58.96" y1="55.58" x2="58.96" y2="47.24" stroke="#000" stroke-width="0.9" stroke-linecap="butt"/>
<line x1="57.16" y1="47.24" x2="60.76" y2="47.24" stroke="#000" stroke-width="0.9" stroke-linecap="butt"/>
<line x1="58.96" y1="55.58" x2="58.96" y2="63.92" stroke="#000" stroke-width="0.9" stroke-linecap="butt"/>
<line x1="57.16" y1="63.92" x2="60.76" y2="63.92" stroke="#000" stroke-width="0.9" stroke-linecap="butt"/>
<line x1="69.64" y1="53.08" x2="69.64" y2="46.41" stroke="#000" stroke-width="0.9" stroke-linecap="butt"/>
<line x1="67.84" y1="46.41" x2="71.44" y2="46.41" stroke="#000" stroke-width="0.9" stroke-linecap="butt"/>
<line x1="69.64" y1="53.08" x2="69.64" y2="59.75" stroke="#000" stroke-width="0.9" stroke-linecap="butt"/>
<line x1="67.84" y1="59.75" x2="71.44" y2="59.75" stroke="#000" stroke-width="0.9" stroke-linecap="butt"/>
<line x1="80.32" y1="48.91" x2="80.32" y2="40.57" stroke="#000" stroke-width="0.9" stroke-linecap="butt"/>
<line x1="78.52" y1="40.57" x2="82.12" y2="40.57" stroke="#000" stroke-width="0.9" stroke-linecap="butt"/>
<line x1="80.32" y1="48.91" x2="80.32" y2="57.25" stroke="#000" stroke-width="0.9" stroke-linecap="butt"/>
<line x1="78.52" y1="57.25" x2="82.12" y2="57.25" stroke="#000" stroke-width="0.9" stroke-linecap="butt"/>
<line x1="88.86" y1="50.58" x2="88.86" y2="42.24" stroke="#000" stroke-width="0.9" stroke-linecap="butt"/>
<line x1="87.06" y1="42.24" x2="90.66" y2="42.24" stroke="#000" stroke-width="0.9" stroke-linecap="butt"/>
<line x1="88.86" y1="50.58" x2="88.86" y2="58.92" stroke="#000" stroke-width="0.9" stroke-linecap="butt"/>
<line x1="87.06" y1="58.92" x2="90.66" y2="58.92" stroke="#000" stroke-width="0.9" stroke-linecap="butt"/>
<line x1="97.41" y1="57.25" x2="97.41" y2="48.91" stroke="#000" stroke-width="0.9" stroke-linecap="butt"/>
<line x1="95.61" y1="48.91" x2="99.21" y2="48.91" stroke="#000" stroke-width="0.9" stroke-linecap="butt"/>
<line x1="97.41" y1="57.25" x2="97.41" y2="65.59" stroke="#000" stroke-width="0.9" stroke-linecap="butt"/>
<line x1="95.61" y1="65.59" x2="99.21" y2="65.59" stroke="#000" stroke-width="0.9" stroke-linecap="butt"/>
<line x1="105.95" y1="68.09" x2="105.95" y2="59.75" stroke="#000" stroke-width="0.9" stroke-linecap="butt"/>
<line x1="104.15" y1="59.75" x2="107.75" y2="59.75" stroke="#000" stroke-width="0.9" stroke-linecap="butt"/>
<line x1="105.95" y1="68.09" x2="105.95" y2="76.43" stroke="#000" stroke-width="0.9" stroke-linecap="butt"/>
<line x1="104.15" y1="76.43" x2="107.75" y2="76.43" stroke="#000" stroke-width="0.9" stroke-linecap="butt"/>
<line x1="112.36" y1="75.6" x2="112.36" y2="67.26" stroke="#000" stroke-width="0.9" stroke-linecap="butt"/>
<line x1="110.56" y1="67.26" x2="114.16" y2="67.26" stroke="#000" stroke-width="0.9" stroke-linecap="butt"/>
<line x1="112.36" y1="75.6" x2="112.36" y2="83.94" stroke="#000" stroke-width="0.9" stroke-linecap="butt"/>
<line x1="110.56" y1="83.94" x2="114.16" y2="83.94" stroke="#000" stroke-width="0.9" stroke-linecap="butt"/>
<line x1="120.9" y1="105.62" x2="120.9" y2="97.28" stroke="#000" stroke-width="0.9" stroke-linecap="butt"/>
<line x1="119.1" y1="97.28" x2="122.7" y2="97.28" stroke="#000" stroke-width="0.9" stroke-linecap="butt"/>
<line x1="120.9" y1="105.62" x2="120.9" y2="113.96" stroke="#000" stroke-width="0.9" stroke-linecap="butt"/>
<line x1="119.1" y1="113.96" x2="122.7" y2="113.96" stroke="#000" stroke-width="0.9" stroke-linecap="butt"/>
<line x1="129.45" y1="136.48" x2="129.45" y2="128.14" stroke="#000" stroke-width="0.9" stroke-linecap="butt"/>
<line x1="127.65" y1="128.14" x2="131.25" y2="128.14" stroke="#000" stroke-width="0.9" stroke-linecap="butt"/>
<line x1="129.45" y1="136.48" x2="129.45" y2="144.82" stroke="#000" stroke-width="0.9" stroke-linecap="butt"/>
<line x1="127.65" y1="144.82" x2="131.25" y2="144.82" stroke="#000" stroke-width="0.9" stroke-linecap="butt"/>
<line x1="133.72" y1="143.99" x2="133.72" y2="132.31" stroke="#000" stroke-width="0.9" stroke-linecap="butt"/>
<line x1="131.92" y1="132.31" x2="135.52" y2="132.31" stroke="#000" stroke-width="0.9" stroke-linecap="butt"/>
<line x1="133.72" y1="143.99" x2="133.72" y2="155.66" stroke="#000" stroke-width="0.9" stroke-linecap="butt"/>
<line x1="131.92" y1="155.66" x2="135.52" y2="155.66" stroke="#000" stroke-width="0.9" stroke-linecap="butt"/>
<line x1="140.13" y1="153.16" x2="140.13" y2="148.16" stroke="#000" stroke-width="0.9" stroke-linecap="butt"/>
<line x1="138.33" y1="148.16" x2="141.93" y2="148.16" stroke="#000" stroke-width="0.9" stroke-linecap="butt"/>
<line x1="140.13" y1="153.16" x2="140.13" y2="158.16" stroke="#000" stroke-width="0.9" stroke-linecap="butt"/>
<line x1="138.33" y1="158.16" x2="141.93" y2="158.16" stroke="#000" stroke-width="0.9" stroke-linecap="butt"/>
<line x1="144.4" y1="156.5" x2="144.4" y2="152.33" stroke="#000" stroke-width="0.9" stroke-linecap="butt"/>
<line x1="142.6" y1="152.33" x2="146.2" y2="152.33" stroke="#000" stroke-width="0.9" stroke-linecap="butt"/>
<line x1="144.4" y1="156.5" x2="144.4" y2="160.67" stroke="#000" stroke-width="0.9" stroke-linecap="butt"/>
<line x1="142.6" y1="160.67" x2="146.2" y2="160.67" stroke="#000" stroke-width="0.9" stroke-linecap="butt"/>
<line x1="152.94" y1="157.33" x2="152.94" y2="153.16" stroke="#000" stroke-width="0.9" stroke-linecap="butt"/>
<line x1="151.14" y1="153.16" x2="154.74" y2="153.16" stroke="#000" stroke-width="0.9" stroke-linecap="butt"/>
<line x1="152.94" y1="157.33" x2="152.94" y2="161.5" stroke="#000" stroke-width="0.9" stroke-linecap="butt"/>
<line x1="151.14" y1="161.5" x2="154.74" y2="161.5" stroke="#000" stroke-width="0.9" stroke-linecap="butt"/>
<line x1="159.35" y1="157.33" x2="159.35" y2="153.16" stroke="#000" stroke-width="0.9" stroke-linecap="butt"/>
<line x1="157.55" y1="153.16" x2="161.15" y2="153.16" stroke="#000" stroke-width="0.9" stroke-linecap="butt"/>
<line x1="159.35" y1="157.33" x2="159.35" y2="161.5" stroke="#000" stroke-width="0.9" stroke-linecap="butt"/>
<line x1="157.55" y1="161.5" x2="161.15" y2="161.5" stroke="#000" stroke-width="0.9" stroke-linecap="butt"/>
<line x1="172.17" y1="157.33" x2="172.17" y2="153.16" stroke="#000" stroke-width="0.9" stroke-linecap="butt"/>
<line x1="170.37" y1="153.16" x2="173.97" y2="153.16" stroke="#000" stroke-width="0.9" stroke-linecap="butt"/>
<line x1="172.17" y1="157.33" x2="172.17" y2="161.5" stroke="#000" stroke-width="0.9" stroke-linecap="butt"/>
<line x1="170.37" y1="161.5" x2="173.97" y2="161.5" stroke="#000" stroke-width="0.9" stroke-linecap="butt"/>
<line x1="180.71" y1="157.33" x2="180.71" y2="153.16" stroke="#000" stroke-width="0.9" stroke-linecap="butt"/>
<line x1="178.91" y1="153.16" x2="182.51" y2="153.16" stroke="#000" stroke-width="0.9" stroke-linecap="butt"/>
<line x1="180.71" y1="157.33" x2="180.71" y2="161.5" stroke="#000" stroke-width="0.9" stroke-linecap="butt"/>
<line x1="178.91" y1="161.5" x2="182.51" y2="161.5" stroke="#000" stroke-width="0.9" stroke-linecap="butt"/>
<line x1="191.39" y1="157.33" x2="191.39" y2="153.16" stroke="#000" stroke-width="0.9" stroke-linecap="butt"/>
<line x1="189.59" y1="153.16" x2="193.19" y2="153.16" stroke="#000" stroke-width="0.9" stroke-linecap="butt"/>
<line x1="191.39" y1="157.33" x2="191.39" y2="161.5" stroke="#000" stroke-width="0.9" stroke-linecap="butt"/>
<line x1="189.59" y1="161.5" x2="193.19" y2="161.5" stroke="#000" stroke-width="0.9" stroke-linecap="butt"/>
<line x1="208.48" y1="157.33" x2="208.48" y2="153.16" stroke="#000" stroke-width="0.9" stroke-linecap="butt"/>
<line x1="206.68" y1="153.16" x2="210.28" y2="153.16" stroke="#000" stroke-width="0.9" stroke-linecap="butt"/>
<line x1="208.48" y1="157.33" x2="208.48" y2="161.5" stroke="#000" stroke-width="0.9" stroke-linecap="butt"/>
<line x1="206.68" y1="161.5" x2="210.28" y2="161.5" stroke="#000" stroke-width="0.9" stroke-linecap="butt"/>
<polyline points="48.28,49.74 58.96,46.41 69.64,45.57 80.32,48.08 88.86,48.08 97.41,56.42 105.95,58.92 112.36,68.09 120.9,100.62 129.45,132.31 133.72,140.65 140.13,151.49 144.4,155.66 152.94,157.33 159.35,157.33 172.17,157.33 180.71,157.33 191.39,157.33 208.48,157.33" fill="none" stroke="#000" stroke-width="1.6" stroke-linejoin="round"/>
<polyline points="48.28,53.91 58.96,53.08 69.64,48.91 80.32,44.74 88.86,45.57 97.41,51.41 105.95,62.25 112.36,71.43 120.9,103.95 129.45,135.65 133.72,143.15 140.13,152.33 144.4,156.5 152.94,157.33 159.35,157.33 172.17,157.33 180.71,157.33 191.39,157.33 208.48,157.33" fill="none" stroke="#000" stroke-width="1.6" stroke-dasharray="1,1.2" stroke-linejoin="round"/>
<polyline points="48.28,58.08 58.96,53.08 69.64,50.58 80.32,51.41 88.86,53.08 97.41,60.59 105.95,68.09 112.36,76.43 120.9,108.12 129.45,138.15 133.72,144.82 140.13,153.16 144.4,156.5 152.94,158.16 159.35,158.16 172.17,158.16 180.71,158.16 191.39,158.16 208.48,158.16" fill="none" stroke="#000" stroke-width="1.6" stroke-dasharray="4.2,2.2" stroke-linejoin="round"/>
<polyline points="48.28,50.58 58.96,48.91 69.64,45.57 80.32,38.9 88.86,48.08 97.41,46.41 105.95,59.75 112.36,69.76 120.9,102.29 129.45,133.98 133.72,140.65 140.13,151.49 144.4,155.66 152.94,157.33 159.35,157.33 172.17,157.33 180.71,157.33 191.39,157.33 208.48,157.33" fill="none" stroke="#000" stroke-width="1.6" stroke-dasharray="6,1.5,1,1,1,1.5" stroke-linejoin="round"/>
<polyline points="48.28,58.92 58.96,55.58 69.64,53.08 80.32,48.91 88.86,50.58 97.41,57.25 105.95,68.09 112.36,75.6 120.9,105.62 129.45,136.48 133.72,143.99 140.13,153.16 144.4,156.5 152.94,157.33 159.35,157.33 172.17,157.33 180.71,157.33 191.39,157.33 208.48,157.33" fill="none" stroke="#000" stroke-width="1.6" stroke-dasharray="8.5,3" stroke-linejoin="round"/>
<circle cx="48.28" cy="49.74" r="2.5" fill="#fff" stroke="#000" stroke-width="1.25"/>
<circle cx="58.96" cy="46.41" r="2.5" fill="#fff" stroke="#000" stroke-width="1.25"/>
<circle cx="69.64" cy="45.57" r="2.5" fill="#fff" stroke="#000" stroke-width="1.25"/>
<circle cx="80.32" cy="48.08" r="2.5" fill="#fff" stroke="#000" stroke-width="1.25"/>
<circle cx="88.86" cy="48.08" r="2.5" fill="#fff" stroke="#000" stroke-width="1.25"/>
<circle cx="97.41" cy="56.42" r="2.5" fill="#fff" stroke="#000" stroke-width="1.25"/>
<circle cx="105.95" cy="58.92" r="2.5" fill="#fff" stroke="#000" stroke-width="1.25"/>
<circle cx="112.36" cy="68.09" r="2.5" fill="#fff" stroke="#000" stroke-width="1.25"/>
<circle cx="120.9" cy="100.62" r="2.5" fill="#fff" stroke="#000" stroke-width="1.25"/>
<circle cx="129.45" cy="132.31" r="2.5" fill="#fff" stroke="#000" stroke-width="1.25"/>
<circle cx="133.72" cy="140.65" r="2.5" fill="#fff" stroke="#000" stroke-width="1.25"/>
<circle cx="140.13" cy="151.49" r="2.5" fill="#fff" stroke="#000" stroke-width="1.25"/>
<circle cx="144.4" cy="155.66" r="2.5" fill="#fff" stroke="#000" stroke-width="1.25"/>
<circle cx="152.94" cy="157.33" r="2.5" fill="#fff" stroke="#000" stroke-width="1.25"/>
<circle cx="159.35" cy="157.33" r="2.5" fill="#fff" stroke="#000" stroke-width="1.25"/>
<circle cx="172.17" cy="157.33" r="2.5" fill="#fff" stroke="#000" stroke-width="1.25"/>
<circle cx="180.71" cy="157.33" r="2.5" fill="#fff" stroke="#000" stroke-width="1.25"/>
<circle cx="191.39" cy="157.33" r="2.5" fill="#fff" stroke="#000" stroke-width="1.25"/>
<circle cx="208.48" cy="157.33" r="2.5" fill="#fff" stroke="#000" stroke-width="1.25"/>
<polygon points="45.73,51.87 50.83,51.87 48.28,56.46" fill="#fff" stroke="#000" stroke-width="1.25"/>
<polygon points="56.41,51.04 61.51,51.04 58.96,55.63" fill="#fff" stroke="#000" stroke-width="1.25"/>
<polygon points="67.09,46.87 72.19,46.87 69.64,51.46" fill="#fff" stroke="#000" stroke-width="1.25"/>
<polygon points="77.77,42.7 82.87,42.7 80.32,47.29" fill="#fff" stroke="#000" stroke-width="1.25"/>
<polygon points="86.31,43.53 91.41,43.53 88.86,48.12" fill="#fff" stroke="#000" stroke-width="1.25"/>
<polygon points="94.86,49.37 99.96,49.37 97.41,53.96" fill="#fff" stroke="#000" stroke-width="1.25"/>
<polygon points="103.4,60.21 108.5,60.21 105.95,64.8" fill="#fff" stroke="#000" stroke-width="1.25"/>
<polygon points="109.81,69.39 114.91,69.39 112.36,73.98" fill="#fff" stroke="#000" stroke-width="1.25"/>
<polygon points="118.35,101.91 123.45,101.91 120.9,106.5" fill="#fff" stroke="#000" stroke-width="1.25"/>
<polygon points="126.9,133.61 132,133.61 129.45,138.2" fill="#fff" stroke="#000" stroke-width="1.25"/>
<polygon points="131.17,141.11 136.27,141.11 133.72,145.7" fill="#fff" stroke="#000" stroke-width="1.25"/>
<polygon points="137.58,150.29 142.68,150.29 140.13,154.88" fill="#fff" stroke="#000" stroke-width="1.25"/>
<polygon points="141.85,154.46 146.95,154.46 144.4,159.05" fill="#fff" stroke="#000" stroke-width="1.25"/>
<polygon points="150.39,155.29 155.49,155.29 152.94,159.88" fill="#fff" stroke="#000" stroke-width="1.25"/>
<polygon points="156.8,155.29 161.9,155.29 159.35,159.88" fill="#fff" stroke="#000" stroke-width="1.25"/>
<polygon points="169.62,155.29 174.72,155.29 172.17,159.88" fill="#fff" stroke="#000" stroke-width="1.25"/>
<polygon points="178.16,155.29 183.26,155.29 180.71,159.88" fill="#fff" stroke="#000" stroke-width="1.25"/>
<polygon points="188.84,155.29 193.94,155.29 191.39,159.88" fill="#fff" stroke="#000" stroke-width="1.25"/>
<polygon points="205.93,155.29 211.03,155.29 208.48,159.88" fill="#fff" stroke="#000" stroke-width="1.25"/>
<rect x="45.98" y="55.78" width="4.6" height="4.6" fill="#fff" stroke="#000" stroke-width="1.25"/>
<rect x="56.66" y="50.78" width="4.6" height="4.6" fill="#fff" stroke="#000" stroke-width="1.25"/>
<rect x="67.34" y="48.28" width="4.6" height="4.6" fill="#fff" stroke="#000" stroke-width="1.25"/>
<rect x="78.02" y="49.11" width="4.6" height="4.6" fill="#fff" stroke="#000" stroke-width="1.25"/>
<rect x="86.56" y="50.78" width="4.6" height="4.6" fill="#fff" stroke="#000" stroke-width="1.25"/>
<rect x="95.11" y="58.29" width="4.6" height="4.6" fill="#fff" stroke="#000" stroke-width="1.25"/>
<rect x="103.65" y="65.79" width="4.6" height="4.6" fill="#fff" stroke="#000" stroke-width="1.25"/>
<rect x="110.06" y="74.13" width="4.6" height="4.6" fill="#fff" stroke="#000" stroke-width="1.25"/>
<rect x="118.6" y="105.82" width="4.6" height="4.6" fill="#fff" stroke="#000" stroke-width="1.25"/>
<rect x="127.15" y="135.85" width="4.6" height="4.6" fill="#fff" stroke="#000" stroke-width="1.25"/>
<rect x="131.42" y="142.52" width="4.6" height="4.6" fill="#fff" stroke="#000" stroke-width="1.25"/>
<rect x="137.83" y="150.86" width="4.6" height="4.6" fill="#fff" stroke="#000" stroke-width="1.25"/>
<rect x="142.1" y="154.2" width="4.6" height="4.6" fill="#fff" stroke="#000" stroke-width="1.25"/>
<rect x="150.64" y="155.86" width="4.6" height="4.6" fill="#fff" stroke="#000" stroke-width="1.25"/>
<rect x="157.05" y="155.86" width="4.6" height="4.6" fill="#fff" stroke="#000" stroke-width="1.25"/>
<rect x="169.87" y="155.86" width="4.6" height="4.6" fill="#fff" stroke="#000" stroke-width="1.25"/>
<rect x="178.41" y="155.86" width="4.6" height="4.6" fill="#fff" stroke="#000" stroke-width="1.25"/>
<rect x="189.09" y="155.86" width="4.6" height="4.6" fill="#fff" stroke="#000" stroke-width="1.25"/>
<rect x="206.18" y="155.86" width="4.6" height="4.6" fill="#fff" stroke="#000" stroke-width="1.25"/>
<polygon points="48.28,47.58 51.28,50.58 48.28,53.58 45.28,50.58" fill="#fff" stroke="#000" stroke-width="1.25"/>
<polygon points="58.96,45.91 61.96,48.91 58.96,51.91 55.96,48.91" fill="#fff" stroke="#000" stroke-width="1.25"/>
<polygon points="69.64,42.57 72.64,45.57 69.64,48.57 66.64,45.57" fill="#fff" stroke="#000" stroke-width="1.25"/>
<polygon points="80.32,35.9 83.32,38.9 80.32,41.9 77.32,38.9" fill="#fff" stroke="#000" stroke-width="1.25"/>
<polygon points="88.86,45.08 91.86,48.08 88.86,51.08 85.86,48.08" fill="#fff" stroke="#000" stroke-width="1.25"/>
<polygon points="97.41,43.41 100.41,46.41 97.41,49.41 94.41,46.41" fill="#fff" stroke="#000" stroke-width="1.25"/>
<polygon points="105.95,56.75 108.95,59.75 105.95,62.75 102.95,59.75" fill="#fff" stroke="#000" stroke-width="1.25"/>
<polygon points="112.36,66.76 115.36,69.76 112.36,72.76 109.36,69.76" fill="#fff" stroke="#000" stroke-width="1.25"/>
<polygon points="120.9,99.29 123.9,102.29 120.9,105.29 117.9,102.29" fill="#fff" stroke="#000" stroke-width="1.25"/>
<polygon points="129.45,130.98 132.45,133.98 129.45,136.98 126.45,133.98" fill="#fff" stroke="#000" stroke-width="1.25"/>
<polygon points="133.72,137.65 136.72,140.65 133.72,143.65 130.72,140.65" fill="#fff" stroke="#000" stroke-width="1.25"/>
<polygon points="140.13,148.49 143.13,151.49 140.13,154.49 137.13,151.49" fill="#fff" stroke="#000" stroke-width="1.25"/>
<polygon points="144.4,152.66 147.4,155.66 144.4,158.66 141.4,155.66" fill="#fff" stroke="#000" stroke-width="1.25"/>
<polygon points="152.94,154.33 155.94,157.33 152.94,160.33 149.94,157.33" fill="#fff" stroke="#000" stroke-width="1.25"/>
<polygon points="159.35,154.33 162.35,157.33 159.35,160.33 156.35,157.33" fill="#fff" stroke="#000" stroke-width="1.25"/>
<polygon points="172.17,154.33 175.17,157.33 172.17,160.33 169.17,157.33" fill="#fff" stroke="#000" stroke-width="1.25"/>
<polygon points="180.71,154.33 183.71,157.33 180.71,160.33 177.71,157.33" fill="#fff" stroke="#000" stroke-width="1.25"/>
<polygon points="191.39,154.33 194.39,157.33 191.39,160.33 188.39,157.33" fill="#fff" stroke="#000" stroke-width="1.25"/>
<polygon points="208.48,154.33 211.48,157.33 208.48,160.33 205.48,157.33" fill="#fff" stroke="#000" stroke-width="1.25"/>
<polygon points="45.73,60.96 50.83,60.96 48.28,56.37" fill="#fff" stroke="#000" stroke-width="1.25"/>
<polygon points="56.41,57.62 61.51,57.62 58.96,53.03" fill="#fff" stroke="#000" stroke-width="1.25"/>
<polygon points="67.09,55.12 72.19,55.12 69.64,50.53" fill="#fff" stroke="#000" stroke-width="1.25"/>
<polygon points="77.77,50.95 82.87,50.95 80.32,46.36" fill="#fff" stroke="#000" stroke-width="1.25"/>
<polygon points="86.31,52.62 91.41,52.62 88.86,48.03" fill="#fff" stroke="#000" stroke-width="1.25"/>
<polygon points="94.86,59.29 99.96,59.29 97.41,54.7" fill="#fff" stroke="#000" stroke-width="1.25"/>
<polygon points="103.4,70.13 108.5,70.13 105.95,65.54" fill="#fff" stroke="#000" stroke-width="1.25"/>
<polygon points="109.81,77.64 114.91,77.64 112.36,73.05" fill="#fff" stroke="#000" stroke-width="1.25"/>
<polygon points="118.35,107.66 123.45,107.66 120.9,103.07" fill="#fff" stroke="#000" stroke-width="1.25"/>
<polygon points="126.9,138.52 132,138.52 129.45,133.93" fill="#fff" stroke="#000" stroke-width="1.25"/>
<polygon points="131.17,146.03 136.27,146.03 133.72,141.44" fill="#fff" stroke="#000" stroke-width="1.25"/>
<polygon points="137.58,155.2 142.68,155.2 140.13,150.61" fill="#fff" stroke="#000" stroke-width="1.25"/>
<polygon points="141.85,158.54 146.95,158.54 144.4,153.95" fill="#fff" stroke="#000" stroke-width="1.25"/>
<polygon points="150.39,159.37 155.49,159.37 152.94,154.78" fill="#fff" stroke="#000" stroke-width="1.25"/>
<polygon points="156.8,159.37 161.9,159.37 159.35,154.78" fill="#fff" stroke="#000" stroke-width="1.25"/>
<polygon points="169.62,159.37 174.72,159.37 172.17,154.78" fill="#fff" stroke="#000" stroke-width="1.25"/>
<polygon points="178.16,159.37 183.26,159.37 180.71,154.78" fill="#fff" stroke="#000" stroke-width="1.25"/>
<polygon points="188.84,159.37 193.94,159.37 191.39,154.78" fill="#fff" stroke="#000" stroke-width="1.25"/>
<polygon points="205.93,159.37 211.03,159.37 208.48,154.78" fill="#fff" stroke="#000" stroke-width="1.25"/>
<line x1="169" y1="51.8" x2="206.8" y2="51.8" stroke="#000" stroke-width="1.5" stroke-linecap="butt"/>
<circle cx="187.8" cy="51.8" r="2.5" fill="#fff" stroke="#000" stroke-width="1.25"/>
<text x="214.8" y="54.8" font-size="8.4" text-anchor="start" font-weight="normal" fill="#000" stroke="#000" stroke-width="0.3">wt 1m</text>
<line x1="169" y1="61.9" x2="206.8" y2="61.9" stroke="#000" stroke-width="1.5" stroke-dasharray="1,1.2" stroke-linecap="butt"/>
<polygon points="185.25,59.86 190.35,59.86 187.8,64.45" fill="#fff" stroke="#000" stroke-width="1.25"/>
<text x="214.8" y="64.9" font-size="8.4" text-anchor="start" font-weight="normal" fill="#000" stroke="#000" stroke-width="0.3">wt 2m</text>
<line x1="169" y1="72.1" x2="206.8" y2="72.1" stroke="#000" stroke-width="1.5" stroke-dasharray="4.2,2.2" stroke-linecap="butt"/>
<rect x="185.5" y="69.8" width="4.6" height="4.6" fill="#fff" stroke="#000" stroke-width="1.25"/>
<text x="214.8" y="75.1" font-size="8.4" text-anchor="start" font-weight="normal" fill="#000" stroke="#000" stroke-width="0.3">wt 4m</text>
<line x1="169" y1="82.2" x2="206.8" y2="82.2" stroke="#000" stroke-width="1.5" stroke-dasharray="6,1.5,1,1,1,1.5" stroke-linecap="butt"/>
<polygon points="187.8,79.2 190.8,82.2 187.8,85.2 184.8,82.2" fill="#fff" stroke="#000" stroke-width="1.25"/>
<text x="214.8" y="85.2" font-size="8.4" text-anchor="start" font-weight="normal" fill="#000" stroke="#000" stroke-width="0.3">wt 6m</text>
<line x1="169" y1="92.4" x2="206.8" y2="92.4" stroke="#000" stroke-width="1.5" stroke-dasharray="8.5,3" stroke-linecap="butt"/>
<polygon points="185.25,94.44 190.35,94.44 187.8,89.85" fill="#fff" stroke="#000" stroke-width="1.25"/>
<text x="214.8" y="95.4" font-size="8.4" text-anchor="start" font-weight="normal" fill="#000" stroke="#000" stroke-width="0.3">wt 8m</text>
<text x="276.3" y="19.5" font-size="25" text-anchor="start" font-weight="bold" fill="#000" stroke="#000" stroke-width="0.3">B</text>
<line x1="304.3" y1="18.5" x2="303.8" y2="164.2" stroke="#222" stroke-width="1" stroke-linecap="butt"/>
<line x1="303.8" y1="163.9" x2="510.6" y2="164.9" stroke="#222" stroke-width="1" stroke-linecap="butt"/>
<line x1="300.8" y1="163.4" x2="304" y2="163.4" stroke="#222" stroke-width="1" stroke-linecap="butt"/>
<text x="297.4" y="166.8" font-size="8.2" text-anchor="end" font-weight="normal" fill="#000" stroke="#000" stroke-width="0.3">0.0</text>
<line x1="300.8" y1="123.4" x2="304" y2="123.4" stroke="#222" stroke-width="1" stroke-linecap="butt"/>
<text x="297.4" y="126.8" font-size="8.2" text-anchor="end" font-weight="normal" fill="#000" stroke="#000" stroke-width="0.3">0.5</text>
<line x1="300.8" y1="83.4" x2="304" y2="83.4" stroke="#222" stroke-width="1" stroke-linecap="butt"/>
<text x="297.4" y="86.8" font-size="8.2" text-anchor="end" font-weight="normal" fill="#000" stroke="#000" stroke-width="0.3">1.0</text>
<line x1="300.8" y1="43.4" x2="304" y2="43.4" stroke="#222" stroke-width="1" stroke-linecap="butt"/>
<text x="297.4" y="46.8" font-size="8.2" text-anchor="end" font-weight="normal" fill="#000" stroke="#000" stroke-width="0.3">1.5</text>
<line x1="303.8" y1="163.9" x2="303.8" y2="166.5" stroke="#222" stroke-width="1" stroke-linecap="butt"/>
<text x="303.8" y="177.2" font-size="8.2" text-anchor="middle" font-weight="normal" fill="#000" stroke="#000" stroke-width="0.3">40</text>
<line x1="345.12" y1="164.1" x2="345.12" y2="166.7" stroke="#222" stroke-width="1" stroke-linecap="butt"/>
<text x="345.12" y="177.2" font-size="8.2" text-anchor="middle" font-weight="normal" fill="#000" stroke="#000" stroke-width="0.3">60</text>
<line x1="386.44" y1="164.3" x2="386.44" y2="166.9" stroke="#222" stroke-width="1" stroke-linecap="butt"/>
<text x="386.44" y="177.2" font-size="8.2" text-anchor="middle" font-weight="normal" fill="#000" stroke="#000" stroke-width="0.3">80</text>
<line x1="427.76" y1="164.5" x2="427.76" y2="167.1" stroke="#222" stroke-width="1" stroke-linecap="butt"/>
<text x="427.76" y="177.2" font-size="8.2" text-anchor="middle" font-weight="normal" fill="#000" stroke="#000" stroke-width="0.3">100</text>
<line x1="469.08" y1="164.69" x2="469.08" y2="167.29" stroke="#222" stroke-width="1" stroke-linecap="butt"/>
<text x="469.08" y="177.2" font-size="8.2" text-anchor="middle" font-weight="normal" fill="#000" stroke="#000" stroke-width="0.3">120</text>
<line x1="510.4" y1="164.89" x2="510.4" y2="167.49" stroke="#222" stroke-width="1" stroke-linecap="butt"/>
<text x="510.4" y="177.2" font-size="8.2" text-anchor="middle" font-weight="normal" fill="#000" stroke="#000" stroke-width="0.3">140</text>
<text x="401.3" y="189.4" font-size="8.2" text-anchor="middle" font-weight="normal" fill="#000" stroke="#000" stroke-width="0.3">NaCl [mM]</text>
<text x="285" y="94.9" font-size="7.9" text-anchor="middle" font-weight="normal" fill="#000" stroke="#000" stroke-width="0.2" transform="rotate(-90 285 94.9)">OD (550 nm)</text>
<line x1="314.13" y1="81.8" x2="314.13" y2="75.4" stroke="#000" stroke-width="0.9" stroke-linecap="butt"/>
<line x1="312.33" y1="75.4" x2="315.93" y2="75.4" stroke="#000" stroke-width="0.9" stroke-linecap="butt"/>
<line x1="314.13" y1="81.8" x2="314.13" y2="88.2" stroke="#000" stroke-width="0.9" stroke-linecap="butt"/>
<line x1="312.33" y1="88.2" x2="315.93" y2="88.2" stroke="#000" stroke-width="0.9" stroke-linecap="butt"/>
<line x1="324.46" y1="88.2" x2="324.46" y2="77" stroke="#000" stroke-width="0.9" stroke-linecap="butt"/>
<line x1="322.66" y1="77" x2="326.26" y2="77" stroke="#000" stroke-width="0.9" stroke-linecap="butt"/>
<line x1="324.46" y1="88.2" x2="324.46" y2="99.4" stroke="#000" stroke-width="0.9" stroke-linecap="butt"/>
<line x1="322.66" y1="99.4" x2="326.26" y2="99.4" stroke="#000" stroke-width="0.9" stroke-linecap="butt"/>
<line x1="334.79" y1="101.8" x2="334.79" y2="90.6" stroke="#000" stroke-width="0.9" stroke-linecap="butt"/>
<line x1="332.99" y1="90.6" x2="336.59" y2="90.6" stroke="#000" stroke-width="0.9" stroke-linecap="butt"/>
<line x1="334.79" y1="101.8" x2="334.79" y2="113" stroke="#000" stroke-width="0.9" stroke-linecap="butt"/>
<line x1="332.99" y1="113" x2="336.59" y2="113" stroke="#000" stroke-width="0.9" stroke-linecap="butt"/>
<line x1="345.12" y1="114.6" x2="345.12" y2="104.2" stroke="#000" stroke-width="0.9" stroke-linecap="butt"/>
<line x1="343.32" y1="104.2" x2="346.92" y2="104.2" stroke="#000" stroke-width="0.9" stroke-linecap="butt"/>
<line x1="345.12" y1="114.6" x2="345.12" y2="125" stroke="#000" stroke-width="0.9" stroke-linecap="butt"/>
<line x1="343.32" y1="125" x2="346.92" y2="125" stroke="#000" stroke-width="0.9" stroke-linecap="butt"/>
<line x1="353.38" y1="127.8" x2="353.38" y2="118.2" stroke="#000" stroke-width="0.9" stroke-linecap="butt"/>
<line x1="351.58" y1="118.2" x2="355.18" y2="118.2" stroke="#000" stroke-width="0.9" stroke-linecap="butt"/>
<line x1="353.38" y1="127.8" x2="353.38" y2="137.4" stroke="#000" stroke-width="0.9" stroke-linecap="butt"/>
<line x1="351.58" y1="137.4" x2="355.18" y2="137.4" stroke="#000" stroke-width="0.9" stroke-linecap="butt"/>
<line x1="361.65" y1="137.8" x2="361.65" y2="131.4" stroke="#000" stroke-width="0.9" stroke-linecap="butt"/>
<line x1="359.85" y1="131.4" x2="363.45" y2="131.4" stroke="#000" stroke-width="0.9" stroke-linecap="butt"/>
<line x1="361.65" y1="137.8" x2="361.65" y2="144.2" stroke="#000" stroke-width="0.9" stroke-linecap="butt"/>
<line x1="359.85" y1="144.2" x2="363.45" y2="144.2" stroke="#000" stroke-width="0.9" stroke-linecap="butt"/>
<line x1="369.91" y1="144.2" x2="369.91" y2="137.8" stroke="#000" stroke-width="0.9" stroke-linecap="butt"/>
<line x1="368.11" y1="137.8" x2="371.71" y2="137.8" stroke="#000" stroke-width="0.9" stroke-linecap="butt"/>
<line x1="369.91" y1="144.2" x2="369.91" y2="150.6" stroke="#000" stroke-width="0.9" stroke-linecap="butt"/>
<line x1="368.11" y1="150.6" x2="371.71" y2="150.6" stroke="#000" stroke-width="0.9" stroke-linecap="butt"/>
<line x1="376.11" y1="150.6" x2="376.11" y2="145.8" stroke="#000" stroke-width="0.9" stroke-linecap="butt"/>
<line x1="374.31" y1="145.8" x2="377.91" y2="145.8" stroke="#000" stroke-width="0.9" stroke-linecap="butt"/>
<line x1="376.11" y1="150.6" x2="376.11" y2="155.4" stroke="#000" stroke-width="0.9" stroke-linecap="butt"/>
<line x1="374.31" y1="155.4" x2="377.91" y2="155.4" stroke="#000" stroke-width="0.9" stroke-linecap="butt"/>
<line x1="384.37" y1="155.4" x2="384.37" y2="151.4" stroke="#000" stroke-width="0.9" stroke-linecap="butt"/>
<line x1="382.57" y1="151.4" x2="386.17" y2="151.4" stroke="#000" stroke-width="0.9" stroke-linecap="butt"/>
<line x1="384.37" y1="155.4" x2="384.37" y2="159.4" stroke="#000" stroke-width="0.9" stroke-linecap="butt"/>
<line x1="382.57" y1="159.4" x2="386.17" y2="159.4" stroke="#000" stroke-width="0.9" stroke-linecap="butt"/>
<line x1="392.64" y1="157.4" x2="392.64" y2="154.2" stroke="#000" stroke-width="0.9" stroke-linecap="butt"/>
<line x1="390.84" y1="154.2" x2="394.44" y2="154.2" stroke="#000" stroke-width="0.9" stroke-linecap="butt"/>
<line x1="392.64" y1="157.4" x2="392.64" y2="160.6" stroke="#000" stroke-width="0.9" stroke-linecap="butt"/>
<line x1="390.84" y1="160.6" x2="394.44" y2="160.6" stroke="#000" stroke-width="0.9" stroke-linecap="butt"/>
<line x1="396.77" y1="157.8" x2="396.77" y2="155.4" stroke="#000" stroke-width="0.9" stroke-linecap="butt"/>
<line x1="394.97" y1="155.4" x2="398.57" y2="155.4" stroke="#000" stroke-width="0.9" stroke-linecap="butt"/>
<line x1="396.77" y1="157.8" x2="396.77" y2="160.2" stroke="#000" stroke-width="0.9" stroke-linecap="butt"/>
<line x1="394.97" y1="160.2" x2="398.57" y2="160.2" stroke="#000" stroke-width="0.9" stroke-linecap="butt"/>
<line x1="402.97" y1="158.6" x2="402.97" y2="156.2" stroke="#000" stroke-width="0.9" stroke-linecap="butt"/>
<line x1="401.17" y1="156.2" x2="404.77" y2="156.2" stroke="#000" stroke-width="0.9" stroke-linecap="butt"/>
<line x1="402.97" y1="158.6" x2="402.97" y2="161" stroke="#000" stroke-width="0.9" stroke-linecap="butt"/>
<line x1="401.17" y1="161" x2="404.77" y2="161" stroke="#000" stroke-width="0.9" stroke-linecap="butt"/>
<line x1="407.1" y1="159" x2="407.1" y2="156.6" stroke="#000" stroke-width="0.9" stroke-linecap="butt"/>
<line x1="405.3" y1="156.6" x2="408.9" y2="156.6" stroke="#000" stroke-width="0.9" stroke-linecap="butt"/>
<line x1="407.1" y1="159" x2="407.1" y2="161.4" stroke="#000" stroke-width="0.9" stroke-linecap="butt"/>
<line x1="405.3" y1="161.4" x2="408.9" y2="161.4" stroke="#000" stroke-width="0.9" stroke-linecap="butt"/>
<line x1="415.36" y1="159" x2="415.36" y2="156.6" stroke="#000" stroke-width="0.9" stroke-linecap="butt"/>
<line x1="413.56" y1="156.6" x2="417.16" y2="156.6" stroke="#000" stroke-width="0.9" stroke-linecap="butt"/>
<line x1="415.36" y1="159" x2="415.36" y2="161.4" stroke="#000" stroke-width="0.9" stroke-linecap="butt"/>
<line x1="413.56" y1="161.4" x2="417.16" y2="161.4" stroke="#000" stroke-width="0.9" stroke-linecap="butt"/>
<line x1="421.56" y1="159.4" x2="421.56" y2="157" stroke="#000" stroke-width="0.9" stroke-linecap="butt"/>
<line x1="419.76" y1="157" x2="423.36" y2="157" stroke="#000" stroke-width="0.9" stroke-linecap="butt"/>
<line x1="421.56" y1="159.4" x2="421.56" y2="161.8" stroke="#000" stroke-width="0.9" stroke-linecap="butt"/>
<line x1="419.76" y1="161.8" x2="423.36" y2="161.8" stroke="#000" stroke-width="0.9" stroke-linecap="butt"/>
<line x1="433.96" y1="159.8" x2="433.96" y2="157.4" stroke="#000" stroke-width="0.9" stroke-linecap="butt"/>
<line x1="432.16" y1="157.4" x2="435.76" y2="157.4" stroke="#000" stroke-width="0.9" stroke-linecap="butt"/>
<line x1="433.96" y1="159.8" x2="433.96" y2="162.2" stroke="#000" stroke-width="0.9" stroke-linecap="butt"/>
<line x1="432.16" y1="162.2" x2="435.76" y2="162.2" stroke="#000" stroke-width="0.9" stroke-linecap="butt"/>
<line x1="442.22" y1="160.2" x2="442.22" y2="157.8" stroke="#000" stroke-width="0.9" stroke-linecap="butt"/>
<line x1="440.42" y1="157.8" x2="444.02" y2="157.8" stroke="#000" stroke-width="0.9" stroke-linecap="butt"/>
<line x1="442.22" y1="160.2" x2="442.22" y2="162.6" stroke="#000" stroke-width="0.9" stroke-linecap="butt"/>
<line x1="440.42" y1="162.6" x2="444.02" y2="162.6" stroke="#000" stroke-width="0.9" stroke-linecap="butt"/>
<line x1="452.55" y1="160.2" x2="452.55" y2="158.6" stroke="#000" stroke-width="0.9" stroke-linecap="butt"/>
<line x1="450.75" y1="158.6" x2="454.35" y2="158.6" stroke="#000" stroke-width="0.9" stroke-linecap="butt"/>
<line x1="452.55" y1="160.2" x2="452.55" y2="161.8" stroke="#000" stroke-width="0.9" stroke-linecap="butt"/>
<line x1="450.75" y1="161.8" x2="454.35" y2="161.8" stroke="#000" stroke-width="0.9" stroke-linecap="butt"/>
<line x1="469.08" y1="160.2" x2="469.08" y2="158.6" stroke="#000" stroke-width="0.9" stroke-linecap="butt"/>
<line x1="467.28" y1="158.6" x2="470.88" y2="158.6" stroke="#000" stroke-width="0.9" stroke-linecap="butt"/>
<line x1="469.08" y1="160.2" x2="469.08" y2="161.8" stroke="#000" stroke-width="0.9" stroke-linecap="butt"/>
<line x1="467.28" y1="161.8" x2="470.88" y2="161.8" stroke="#000" stroke-width="0.9" stroke-linecap="butt"/>
<line x1="314.13" y1="61.8" x2="314.13" y2="45.8" stroke="#000" stroke-width="0.9" stroke-linecap="butt"/>
<line x1="312.33" y1="45.8" x2="315.93" y2="45.8" stroke="#000" stroke-width="0.9" stroke-linecap="butt"/>
<line x1="314.13" y1="61.8" x2="314.13" y2="77.8" stroke="#000" stroke-width="0.9" stroke-linecap="butt"/>
<line x1="312.33" y1="77.8" x2="315.93" y2="77.8" stroke="#000" stroke-width="0.9" stroke-linecap="butt"/>
<line x1="324.46" y1="69" x2="324.46" y2="49" stroke="#000" stroke-width="0.9" stroke-linecap="butt"/>
<line x1="322.66" y1="49" x2="326.26" y2="49" stroke="#000" stroke-width="0.9" stroke-linecap="butt"/>
<line x1="324.46" y1="69" x2="324.46" y2="89" stroke="#000" stroke-width="0.9" stroke-linecap="butt"/>
<line x1="322.66" y1="89" x2="326.26" y2="89" stroke="#000" stroke-width="0.9" stroke-linecap="butt"/>
<line x1="334.79" y1="79.4" x2="334.79" y2="55.4" stroke="#000" stroke-width="0.9" stroke-linecap="butt"/>
<line x1="332.99" y1="55.4" x2="336.59" y2="55.4" stroke="#000" stroke-width="0.9" stroke-linecap="butt"/>
<line x1="334.79" y1="79.4" x2="334.79" y2="103.4" stroke="#000" stroke-width="0.9" stroke-linecap="butt"/>
<line x1="332.99" y1="103.4" x2="336.59" y2="103.4" stroke="#000" stroke-width="0.9" stroke-linecap="butt"/>
<line x1="345.12" y1="81" x2="345.12" y2="49" stroke="#000" stroke-width="0.9" stroke-linecap="butt"/>
<line x1="343.32" y1="49" x2="346.92" y2="49" stroke="#000" stroke-width="0.9" stroke-linecap="butt"/>
<line x1="345.12" y1="81" x2="345.12" y2="113" stroke="#000" stroke-width="0.9" stroke-linecap="butt"/>
<line x1="343.32" y1="113" x2="346.92" y2="113" stroke="#000" stroke-width="0.9" stroke-linecap="butt"/>
<line x1="353.38" y1="94.6" x2="353.38" y2="62.6" stroke="#000" stroke-width="0.9" stroke-linecap="butt"/>
<line x1="351.58" y1="62.6" x2="355.18" y2="62.6" stroke="#000" stroke-width="0.9" stroke-linecap="butt"/>
<line x1="353.38" y1="94.6" x2="353.38" y2="126.6" stroke="#000" stroke-width="0.9" stroke-linecap="butt"/>
<line x1="351.58" y1="126.6" x2="355.18" y2="126.6" stroke="#000" stroke-width="0.9" stroke-linecap="butt"/>
<line x1="361.65" y1="112.2" x2="361.65" y2="84.2" stroke="#000" stroke-width="0.9" stroke-linecap="butt"/>
<line x1="359.85" y1="84.2" x2="363.45" y2="84.2" stroke="#000" stroke-width="0.9" stroke-linecap="butt"/>
<line x1="361.65" y1="112.2" x2="361.65" y2="140.2" stroke="#000" stroke-width="0.9" stroke-linecap="butt"/>
<line x1="359.85" y1="140.2" x2="363.45" y2="140.2" stroke="#000" stroke-width="0.9" stroke-linecap="butt"/>
<line x1="369.91" y1="116.2" x2="369.91" y2="88.2" stroke="#000" stroke-width="0.9" stroke-linecap="butt"/>
<line x1="368.11" y1="88.2" x2="371.71" y2="88.2" stroke="#000" stroke-width="0.9" stroke-linecap="butt"/>
<line x1="369.91" y1="116.2" x2="369.91" y2="144.2" stroke="#000" stroke-width="0.9" stroke-linecap="butt"/>
<line x1="368.11" y1="144.2" x2="371.71" y2="144.2" stroke="#000" stroke-width="0.9" stroke-linecap="butt"/>
<line x1="376.11" y1="128.2" x2="376.11" y2="104.2" stroke="#000" stroke-width="0.9" stroke-linecap="butt"/>
<line x1="374.31" y1="104.2" x2="377.91" y2="104.2" stroke="#000" stroke-width="0.9" stroke-linecap="butt"/>
<line x1="376.11" y1="128.2" x2="376.11" y2="152.2" stroke="#000" stroke-width="0.9" stroke-linecap="butt"/>
<line x1="374.31" y1="152.2" x2="377.91" y2="152.2" stroke="#000" stroke-width="0.9" stroke-linecap="butt"/>
<line x1="384.37" y1="140.2" x2="384.37" y2="124.2" stroke="#000" stroke-width="0.9" stroke-linecap="butt"/>
<line x1="382.57" y1="124.2" x2="386.17" y2="124.2" stroke="#000" stroke-width="0.9" stroke-linecap="butt"/>
<line x1="384.37" y1="140.2" x2="384.37" y2="156.2" stroke="#000" stroke-width="0.9" stroke-linecap="butt"/>
<line x1="382.57" y1="156.2" x2="386.17" y2="156.2" stroke="#000" stroke-width="0.9" stroke-linecap="butt"/>
<line x1="392.64" y1="147.4" x2="392.64" y2="137.8" stroke="#000" stroke-width="0.9" stroke-linecap="butt"/>
<line x1="390.84" y1="137.8" x2="394.44" y2="137.8" stroke="#000" stroke-width="0.9" stroke-linecap="butt"/>
<line x1="392.64" y1="147.4" x2="392.64" y2="157" stroke="#000" stroke-width="0.9" stroke-linecap="butt"/>
<line x1="390.84" y1="157" x2="394.44" y2="157" stroke="#000" stroke-width="0.9" stroke-linecap="butt"/>
<line x1="396.77" y1="148.2" x2="396.77" y2="140.2" stroke="#000" stroke-width="0.9" stroke-linecap="butt"/>
<line x1="394.97" y1="140.2" x2="398.57" y2="140.2" stroke="#000" stroke-width="0.9" stroke-linecap="butt"/>
<line x1="396.77" y1="148.2" x2="396.77" y2="156.2" stroke="#000" stroke-width="0.9" stroke-linecap="butt"/>
<line x1="394.97" y1="156.2" x2="398.57" y2="156.2" stroke="#000" stroke-width="0.9" stroke-linecap="butt"/>
<line x1="402.97" y1="153" x2="402.97" y2="146.6" stroke="#000" stroke-width="0.9" stroke-linecap="butt"/>
<line x1="401.17" y1="146.6" x2="404.77" y2="146.6" stroke="#000" stroke-width="0.9" stroke-linecap="butt"/>
<line x1="402.97" y1="153" x2="402.97" y2="159.4" stroke="#000" stroke-width="0.9" stroke-linecap="butt"/>
<line x1="401.17" y1="159.4" x2="404.77" y2="159.4" stroke="#000" stroke-width="0.9" stroke-linecap="butt"/>
<line x1="407.1" y1="155.4" x2="407.1" y2="151.4" stroke="#000" stroke-width="0.9" stroke-linecap="butt"/>
<line x1="405.3" y1="151.4" x2="408.9" y2="151.4" stroke="#000" stroke-width="0.9" stroke-linecap="butt"/>
<line x1="407.1" y1="155.4" x2="407.1" y2="159.4" stroke="#000" stroke-width="0.9" stroke-linecap="butt"/>
<line x1="405.3" y1="159.4" x2="408.9" y2="159.4" stroke="#000" stroke-width="0.9" stroke-linecap="butt"/>
<line x1="415.36" y1="157.8" x2="415.36" y2="154.6" stroke="#000" stroke-width="0.9" stroke-linecap="butt"/>
<line x1="413.56" y1="154.6" x2="417.16" y2="154.6" stroke="#000" stroke-width="0.9" stroke-linecap="butt"/>
<line x1="415.36" y1="157.8" x2="415.36" y2="161" stroke="#000" stroke-width="0.9" stroke-linecap="butt"/>
<line x1="413.56" y1="161" x2="417.16" y2="161" stroke="#000" stroke-width="0.9" stroke-linecap="butt"/>
<line x1="421.56" y1="159.4" x2="421.56" y2="157" stroke="#000" stroke-width="0.9" stroke-linecap="butt"/>
<line x1="419.76" y1="157" x2="423.36" y2="157" stroke="#000" stroke-width="0.9" stroke-linecap="butt"/>
<line x1="421.56" y1="159.4" x2="421.56" y2="161.8" stroke="#000" stroke-width="0.9" stroke-linecap="butt"/>
<line x1="419.76" y1="161.8" x2="423.36" y2="161.8" stroke="#000" stroke-width="0.9" stroke-linecap="butt"/>
<line x1="433.96" y1="159.4" x2="433.96" y2="157" stroke="#000" stroke-width="0.9" stroke-linecap="butt"/>
<line x1="432.16" y1="157" x2="435.76" y2="157" stroke="#000" stroke-width="0.9" stroke-linecap="butt"/>
<line x1="433.96" y1="159.4" x2="433.96" y2="161.8" stroke="#000" stroke-width="0.9" stroke-linecap="butt"/>
<line x1="432.16" y1="161.8" x2="435.76" y2="161.8" stroke="#000" stroke-width="0.9" stroke-linecap="butt"/>
<line x1="442.22" y1="159.4" x2="442.22" y2="157" stroke="#000" stroke-width="0.9" stroke-linecap="butt"/>
<line x1="440.42" y1="157" x2="444.02" y2="157" stroke="#000" stroke-width="0.9" stroke-linecap="butt"/>
<line x1="442.22" y1="159.4" x2="442.22" y2="161.8" stroke="#000" stroke-width="0.9" stroke-linecap="butt"/>
<line x1="440.42" y1="161.8" x2="444.02" y2="161.8" stroke="#000" stroke-width="0.9" stroke-linecap="butt"/>
<line x1="452.55" y1="159.4" x2="452.55" y2="157" stroke="#000" stroke-width="0.9" stroke-linecap="butt"/>
<line x1="450.75" y1="157" x2="454.35" y2="157" stroke="#000" stroke-width="0.9" stroke-linecap="butt"/>
<line x1="452.55" y1="159.4" x2="452.55" y2="161.8" stroke="#000" stroke-width="0.9" stroke-linecap="butt"/>
<line x1="450.75" y1="161.8" x2="454.35" y2="161.8" stroke="#000" stroke-width="0.9" stroke-linecap="butt"/>
<line x1="469.08" y1="160.2" x2="469.08" y2="158.6" stroke="#000" stroke-width="0.9" stroke-linecap="butt"/>
<line x1="467.28" y1="158.6" x2="470.88" y2="158.6" stroke="#000" stroke-width="0.9" stroke-linecap="butt"/>
<line x1="469.08" y1="160.2" x2="469.08" y2="161.8" stroke="#000" stroke-width="0.9" stroke-linecap="butt"/>
<line x1="467.28" y1="161.8" x2="470.88" y2="161.8" stroke="#000" stroke-width="0.9" stroke-linecap="butt"/>
<line x1="314.13" y1="60.2" x2="314.13" y2="36.2" stroke="#000" stroke-width="0.9" stroke-linecap="butt"/>
<line x1="312.33" y1="36.2" x2="315.93" y2="36.2" stroke="#000" stroke-width="0.9" stroke-linecap="butt"/>
<line x1="314.13" y1="60.2" x2="314.13" y2="84.2" stroke="#000" stroke-width="0.9" stroke-linecap="butt"/>
<line x1="312.33" y1="84.2" x2="315.93" y2="84.2" stroke="#000" stroke-width="0.9" stroke-linecap="butt"/>
<line x1="324.46" y1="51.4" x2="324.46" y2="35.4" stroke="#000" stroke-width="0.9" stroke-linecap="butt"/>
<line x1="322.66" y1="35.4" x2="326.26" y2="35.4" stroke="#000" stroke-width="0.9" stroke-linecap="butt"/>
<line x1="324.46" y1="51.4" x2="324.46" y2="67.4" stroke="#000" stroke-width="0.9" stroke-linecap="butt"/>
<line x1="322.66" y1="67.4" x2="326.26" y2="67.4" stroke="#000" stroke-width="0.9" stroke-linecap="butt"/>
<line x1="334.79" y1="56.2" x2="334.79" y2="36.2" stroke="#000" stroke-width="0.9" stroke-linecap="butt"/>
<line x1="332.99" y1="36.2" x2="336.59" y2="36.2" stroke="#000" stroke-width="0.9" stroke-linecap="butt"/>
<line x1="334.79" y1="56.2" x2="334.79" y2="76.2" stroke="#000" stroke-width="0.9" stroke-linecap="butt"/>
<line x1="332.99" y1="76.2" x2="336.59" y2="76.2" stroke="#000" stroke-width="0.9" stroke-linecap="butt"/>
<line x1="345.12" y1="57" x2="345.12" y2="37.8" stroke="#000" stroke-width="0.9" stroke-linecap="butt"/>
<line x1="343.32" y1="37.8" x2="346.92" y2="37.8" stroke="#000" stroke-width="0.9" stroke-linecap="butt"/>
<line x1="345.12" y1="57" x2="345.12" y2="76.2" stroke="#000" stroke-width="0.9" stroke-linecap="butt"/>
<line x1="343.32" y1="76.2" x2="346.92" y2="76.2" stroke="#000" stroke-width="0.9" stroke-linecap="butt"/>
<line x1="353.38" y1="57.8" x2="353.38" y2="40.2" stroke="#000" stroke-width="0.9" stroke-linecap="butt"/>
<line x1="351.58" y1="40.2" x2="355.18" y2="40.2" stroke="#000" stroke-width="0.9" stroke-linecap="butt"/>
<line x1="353.38" y1="57.8" x2="353.38" y2="75.4" stroke="#000" stroke-width="0.9" stroke-linecap="butt"/>
<line x1="351.58" y1="75.4" x2="355.18" y2="75.4" stroke="#000" stroke-width="0.9" stroke-linecap="butt"/>
<line x1="361.65" y1="62.6" x2="361.65" y2="50.6" stroke="#000" stroke-width="0.9" stroke-linecap="butt"/>
<line x1="359.85" y1="50.6" x2="363.45" y2="50.6" stroke="#000" stroke-width="0.9" stroke-linecap="butt"/>
<line x1="361.65" y1="62.6" x2="361.65" y2="74.6" stroke="#000" stroke-width="0.9" stroke-linecap="butt"/>
<line x1="359.85" y1="74.6" x2="363.45" y2="74.6" stroke="#000" stroke-width="0.9" stroke-linecap="butt"/>
<line x1="369.91" y1="65.8" x2="369.91" y2="53.8" stroke="#000" stroke-width="0.9" stroke-linecap="butt"/>
<line x1="368.11" y1="53.8" x2="371.71" y2="53.8" stroke="#000" stroke-width="0.9" stroke-linecap="butt"/>
<line x1="369.91" y1="65.8" x2="369.91" y2="77.8" stroke="#000" stroke-width="0.9" stroke-linecap="butt"/>
<line x1="368.11" y1="77.8" x2="371.71" y2="77.8" stroke="#000" stroke-width="0.9" stroke-linecap="butt"/>
<line x1="376.11" y1="69" x2="376.11" y2="57" stroke="#000" stroke-width="0.9" stroke-linecap="butt"/>
<line x1="374.31" y1="57" x2="377.91" y2="57" stroke="#000" stroke-width="0.9" stroke-linecap="butt"/>
<line x1="376.11" y1="69" x2="376.11" y2="81" stroke="#000" stroke-width="0.9" stroke-linecap="butt"/>
<line x1="374.31" y1="81" x2="377.91" y2="81" stroke="#000" stroke-width="0.9" stroke-linecap="butt"/>
<line x1="384.37" y1="77" x2="384.37" y2="67.4" stroke="#000" stroke-width="0.9" stroke-linecap="butt"/>
<line x1="382.57" y1="67.4" x2="386.17" y2="67.4" stroke="#000" stroke-width="0.9" stroke-linecap="butt"/>
<line x1="384.37" y1="77" x2="384.37" y2="86.6" stroke="#000" stroke-width="0.9" stroke-linecap="butt"/>
<line x1="382.57" y1="86.6" x2="386.17" y2="86.6" stroke="#000" stroke-width="0.9" stroke-linecap="butt"/>
<line x1="392.64" y1="85" x2="392.64" y2="75.4" stroke="#000" stroke-width="0.9" stroke-linecap="butt"/>
<line x1="390.84" y1="75.4" x2="394.44" y2="75.4" stroke="#000" stroke-width="0.9" stroke-linecap="butt"/>
<line x1="392.64" y1="85" x2="392.64" y2="94.6" stroke="#000" stroke-width="0.9" stroke-linecap="butt"/>
<line x1="390.84" y1="94.6" x2="394.44" y2="94.6" stroke="#000" stroke-width="0.9" stroke-linecap="butt"/>
<line x1="396.77" y1="88.2" x2="396.77" y2="78.6" stroke="#000" stroke-width="0.9" stroke-linecap="butt"/>
<line x1="394.97" y1="78.6" x2="398.57" y2="78.6" stroke="#000" stroke-width="0.9" stroke-linecap="butt"/>
<line x1="396.77" y1="88.2" x2="396.77" y2="97.8" stroke="#000" stroke-width="0.9" stroke-linecap="butt"/>
<line x1="394.97" y1="97.8" x2="398.57" y2="97.8" stroke="#000" stroke-width="0.9" stroke-linecap="butt"/>
<line x1="402.97" y1="94.6" x2="402.97" y2="85" stroke="#000" stroke-width="0.9" stroke-linecap="butt"/>
<line x1="401.17" y1="85" x2="404.77" y2="85" stroke="#000" stroke-width="0.9" stroke-linecap="butt"/>
<line x1="402.97" y1="94.6" x2="402.97" y2="104.2" stroke="#000" stroke-width="0.9" stroke-linecap="butt"/>
<line x1="401.17" y1="104.2" x2="404.77" y2="104.2" stroke="#000" stroke-width="0.9" stroke-linecap="butt"/>
<line x1="407.1" y1="103.4" x2="407.1" y2="91.4" stroke="#000" stroke-width="0.9" stroke-linecap="butt"/>
<line x1="405.3" y1="91.4" x2="408.9" y2="91.4" stroke="#000" stroke-width="0.9" stroke-linecap="butt"/>
<line x1="407.1" y1="103.4" x2="407.1" y2="115.4" stroke="#000" stroke-width="0.9" stroke-linecap="butt"/>
<line x1="405.3" y1="115.4" x2="408.9" y2="115.4" stroke="#000" stroke-width="0.9" stroke-linecap="butt"/>
<line x1="415.36" y1="115.4" x2="415.36" y2="99.4" stroke="#000" stroke-width="0.9" stroke-linecap="butt"/>
<line x1="413.56" y1="99.4" x2="417.16" y2="99.4" stroke="#000" stroke-width="0.9" stroke-linecap="butt"/>
<line x1="415.36" y1="115.4" x2="415.36" y2="131.4" stroke="#000" stroke-width="0.9" stroke-linecap="butt"/>
<line x1="413.56" y1="131.4" x2="417.16" y2="131.4" stroke="#000" stroke-width="0.9" stroke-linecap="butt"/>
<line x1="421.56" y1="125" x2="421.56" y2="109" stroke="#000" stroke-width="0.9" stroke-linecap="butt"/>
<line x1="419.76" y1="109" x2="423.36" y2="109" stroke="#000" stroke-width="0.9" stroke-linecap="butt"/>
<line x1="421.56" y1="125" x2="421.56" y2="141" stroke="#000" stroke-width="0.9" stroke-linecap="butt"/>
<line x1="419.76" y1="141" x2="423.36" y2="141" stroke="#000" stroke-width="0.9" stroke-linecap="butt"/>
<line x1="433.96" y1="142.6" x2="433.96" y2="118.6" stroke="#000" stroke-width="0.9" stroke-linecap="butt"/>
<line x1="432.16" y1="118.6" x2="435.76" y2="118.6" stroke="#000" stroke-width="0.9" stroke-linecap="butt"/>
<line x1="433.96" y1="142.6" x2="433.96" y2="163.4" stroke="#000" stroke-width="0.9" stroke-linecap="butt"/>
<line x1="432.16" y1="163.4" x2="435.76" y2="163.4" stroke="#000" stroke-width="0.9" stroke-linecap="butt"/>
<line x1="442.22" y1="151.4" x2="442.22" y2="143.4" stroke="#000" stroke-width="0.9" stroke-linecap="butt"/>
<line x1="440.42" y1="143.4" x2="444.02" y2="143.4" stroke="#000" stroke-width="0.9" stroke-linecap="butt"/>
<line x1="442.22" y1="151.4" x2="442.22" y2="159.4" stroke="#000" stroke-width="0.9" stroke-linecap="butt"/>
<line x1="440.42" y1="159.4" x2="444.02" y2="159.4" stroke="#000" stroke-width="0.9" stroke-linecap="butt"/>
<line x1="452.55" y1="157.4" x2="452.55" y2="152.6" stroke="#000" stroke-width="0.9" stroke-linecap="butt"/>
<line x1="450.75" y1="152.6" x2="454.35" y2="152.6" stroke="#000" stroke-width="0.9" stroke-linecap="butt"/>
<line x1="452.55" y1="157.4" x2="452.55" y2="162.2" stroke="#000" stroke-width="0.9" stroke-linecap="butt"/>
<line x1="450.75" y1="162.2" x2="454.35" y2="162.2" stroke="#000" stroke-width="0.9" stroke-linecap="butt"/>
<line x1="469.08" y1="160.2" x2="469.08" y2="157.8" stroke="#000" stroke-width="0.9" stroke-linecap="butt"/>
<line x1="467.28" y1="157.8" x2="470.88" y2="157.8" stroke="#000" stroke-width="0.9" stroke-linecap="butt"/>
<line x1="469.08" y1="160.2" x2="469.08" y2="162.6" stroke="#000" stroke-width="0.9" stroke-linecap="butt"/>
<line x1="467.28" y1="162.6" x2="470.88" y2="162.6" stroke="#000" stroke-width="0.9" stroke-linecap="butt"/>
<line x1="314.13" y1="46.6" x2="314.13" y2="28.2" stroke="#000" stroke-width="0.9" stroke-linecap="butt"/>
<line x1="312.33" y1="28.2" x2="315.93" y2="28.2" stroke="#000" stroke-width="0.9" stroke-linecap="butt"/>
<line x1="314.13" y1="46.6" x2="314.13" y2="65" stroke="#000" stroke-width="0.9" stroke-linecap="butt"/>
<line x1="312.33" y1="65" x2="315.93" y2="65" stroke="#000" stroke-width="0.9" stroke-linecap="butt"/>
<line x1="324.46" y1="44.2" x2="324.46" y2="33" stroke="#000" stroke-width="0.9" stroke-linecap="butt"/>
<line x1="322.66" y1="33" x2="326.26" y2="33" stroke="#000" stroke-width="0.9" stroke-linecap="butt"/>
<line x1="324.46" y1="44.2" x2="324.46" y2="55.4" stroke="#000" stroke-width="0.9" stroke-linecap="butt"/>
<line x1="322.66" y1="55.4" x2="326.26" y2="55.4" stroke="#000" stroke-width="0.9" stroke-linecap="butt"/>
<line x1="334.79" y1="53" x2="334.79" y2="35.4" stroke="#000" stroke-width="0.9" stroke-linecap="butt"/>
<line x1="332.99" y1="35.4" x2="336.59" y2="35.4" stroke="#000" stroke-width="0.9" stroke-linecap="butt"/>
<line x1="334.79" y1="53" x2="334.79" y2="70.6" stroke="#000" stroke-width="0.9" stroke-linecap="butt"/>
<line x1="332.99" y1="70.6" x2="336.59" y2="70.6" stroke="#000" stroke-width="0.9" stroke-linecap="butt"/>
<line x1="345.12" y1="47.4" x2="345.12" y2="36.2" stroke="#000" stroke-width="0.9" stroke-linecap="butt"/>
<line x1="343.32" y1="36.2" x2="346.92" y2="36.2" stroke="#000" stroke-width="0.9" stroke-linecap="butt"/>
<line x1="345.12" y1="47.4" x2="345.12" y2="58.6" stroke="#000" stroke-width="0.9" stroke-linecap="butt"/>
<line x1="343.32" y1="58.6" x2="346.92" y2="58.6" stroke="#000" stroke-width="0.9" stroke-linecap="butt"/>
<line x1="353.38" y1="56.2" x2="353.38" y2="40.2" stroke="#000" stroke-width="0.9" stroke-linecap="butt"/>
<line x1="351.58" y1="40.2" x2="355.18" y2="40.2" stroke="#000" stroke-width="0.9" stroke-linecap="butt"/>
<line x1="353.38" y1="56.2" x2="353.38" y2="72.2" stroke="#000" stroke-width="0.9" stroke-linecap="butt"/>
<line x1="351.58" y1="72.2" x2="355.18" y2="72.2" stroke="#000" stroke-width="0.9" stroke-linecap="butt"/>
<line x1="361.65" y1="53.8" x2="361.65" y2="41.8" stroke="#000" stroke-width="0.9" stroke-linecap="butt"/>
<line x1="359.85" y1="41.8" x2="363.45" y2="41.8" stroke="#000" stroke-width="0.9" stroke-linecap="butt"/>
<line x1="361.65" y1="53.8" x2="361.65" y2="65.8" stroke="#000" stroke-width="0.9" stroke-linecap="butt"/>
<line x1="359.85" y1="65.8" x2="363.45" y2="65.8" stroke="#000" stroke-width="0.9" stroke-linecap="butt"/>
<line x1="369.91" y1="64.2" x2="369.91" y2="52.2" stroke="#000" stroke-width="0.9" stroke-linecap="butt"/>
<line x1="368.11" y1="52.2" x2="371.71" y2="52.2" stroke="#000" stroke-width="0.9" stroke-linecap="butt"/>
<line x1="369.91" y1="64.2" x2="369.91" y2="76.2" stroke="#000" stroke-width="0.9" stroke-linecap="butt"/>
<line x1="368.11" y1="76.2" x2="371.71" y2="76.2" stroke="#000" stroke-width="0.9" stroke-linecap="butt"/>
<line x1="376.11" y1="67.4" x2="376.11" y2="57.8" stroke="#000" stroke-width="0.9" stroke-linecap="butt"/>
<line x1="374.31" y1="57.8" x2="377.91" y2="57.8" stroke="#000" stroke-width="0.9" stroke-linecap="butt"/>
<line x1="376.11" y1="67.4" x2="376.11" y2="77" stroke="#000" stroke-width="0.9" stroke-linecap="butt"/>
<line x1="374.31" y1="77" x2="377.91" y2="77" stroke="#000" stroke-width="0.9" stroke-linecap="butt"/>
<line x1="384.37" y1="67.4" x2="384.37" y2="57.8" stroke="#000" stroke-width="0.9" stroke-linecap="butt"/>
<line x1="382.57" y1="57.8" x2="386.17" y2="57.8" stroke="#000" stroke-width="0.9" stroke-linecap="butt"/>
<line x1="384.37" y1="67.4" x2="384.37" y2="77" stroke="#000" stroke-width="0.9" stroke-linecap="butt"/>
<line x1="382.57" y1="77" x2="386.17" y2="77" stroke="#000" stroke-width="0.9" stroke-linecap="butt"/>
<line x1="392.64" y1="68.2" x2="392.64" y2="52.2" stroke="#000" stroke-width="0.9" stroke-linecap="butt"/>
<line x1="390.84" y1="52.2" x2="394.44" y2="52.2" stroke="#000" stroke-width="0.9" stroke-linecap="butt"/>
<line x1="392.64" y1="68.2" x2="392.64" y2="84.2" stroke="#000" stroke-width="0.9" stroke-linecap="butt"/>
<line x1="390.84" y1="84.2" x2="394.44" y2="84.2" stroke="#000" stroke-width="0.9" stroke-linecap="butt"/>
<line x1="396.77" y1="75.4" x2="396.77" y2="59.4" stroke="#000" stroke-width="0.9" stroke-linecap="butt"/>
<line x1="394.97" y1="59.4" x2="398.57" y2="59.4" stroke="#000" stroke-width="0.9" stroke-linecap="butt"/>
<line x1="396.77" y1="75.4" x2="396.77" y2="91.4" stroke="#000" stroke-width="0.9" stroke-linecap="butt"/>
<line x1="394.97" y1="91.4" x2="398.57" y2="91.4" stroke="#000" stroke-width="0.9" stroke-linecap="butt"/>
<line x1="402.97" y1="79.4" x2="402.97" y2="63.4" stroke="#000" stroke-width="0.9" stroke-linecap="butt"/>
<line x1="401.17" y1="63.4" x2="404.77" y2="63.4" stroke="#000" stroke-width="0.9" stroke-linecap="butt"/>
<line x1="402.97" y1="79.4" x2="402.97" y2="95.4" stroke="#000" stroke-width="0.9" stroke-linecap="butt"/>
<line x1="401.17" y1="95.4" x2="404.77" y2="95.4" stroke="#000" stroke-width="0.9" stroke-linecap="butt"/>
<line x1="407.1" y1="92.2" x2="407.1" y2="77.8" stroke="#000" stroke-width="0.9" stroke-linecap="butt"/>
<line x1="405.3" y1="77.8" x2="408.9" y2="77.8" stroke="#000" stroke-width="0.9" stroke-linecap="butt"/>
<line x1="407.1" y1="92.2" x2="407.1" y2="106.6" stroke="#000" stroke-width="0.9" stroke-linecap="butt"/>
<line x1="405.3" y1="106.6" x2="408.9" y2="106.6" stroke="#000" stroke-width="0.9" stroke-linecap="butt"/>
<line x1="415.36" y1="100.2" x2="415.36" y2="90.6" stroke="#000" stroke-width="0.9" stroke-linecap="butt"/>
<line x1="413.56" y1="90.6" x2="417.16" y2="90.6" stroke="#000" stroke-width="0.9" stroke-linecap="butt"/>
<line x1="415.36" y1="100.2" x2="415.36" y2="109.8" stroke="#000" stroke-width="0.9" stroke-linecap="butt"/>
<line x1="413.56" y1="109.8" x2="417.16" y2="109.8" stroke="#000" stroke-width="0.9" stroke-linecap="butt"/>
<line x1="421.56" y1="109" x2="421.56" y2="97" stroke="#000" stroke-width="0.9" stroke-linecap="butt"/>
<line x1="419.76" y1="97" x2="423.36" y2="97" stroke="#000" stroke-width="0.9" stroke-linecap="butt"/>
<line x1="421.56" y1="109" x2="421.56" y2="121" stroke="#000" stroke-width="0.9" stroke-linecap="butt"/>
<line x1="419.76" y1="121" x2="423.36" y2="121" stroke="#000" stroke-width="0.9" stroke-linecap="butt"/>
<line x1="433.96" y1="135.4" x2="433.96" y2="125.8" stroke="#000" stroke-width="0.9" stroke-linecap="butt"/>
<line x1="432.16" y1="125.8" x2="435.76" y2="125.8" stroke="#000" stroke-width="0.9" stroke-linecap="butt"/>
<line x1="433.96" y1="135.4" x2="433.96" y2="145" stroke="#000" stroke-width="0.9" stroke-linecap="butt"/>
<line x1="432.16" y1="145" x2="435.76" y2="145" stroke="#000" stroke-width="0.9" stroke-linecap="butt"/>
<line x1="442.22" y1="149" x2="442.22" y2="141" stroke="#000" stroke-width="0.9" stroke-linecap="butt"/>
<line x1="440.42" y1="141" x2="444.02" y2="141" stroke="#000" stroke-width="0.9" stroke-linecap="butt"/>
<line x1="442.22" y1="149" x2="442.22" y2="157" stroke="#000" stroke-width="0.9" stroke-linecap="butt"/>
<line x1="440.42" y1="157" x2="444.02" y2="157" stroke="#000" stroke-width="0.9" stroke-linecap="butt"/>
<line x1="452.55" y1="155.4" x2="452.55" y2="150.6" stroke="#000" stroke-width="0.9" stroke-linecap="butt"/>
<line x1="450.75" y1="150.6" x2="454.35" y2="150.6" stroke="#000" stroke-width="0.9" stroke-linecap="butt"/>
<line x1="452.55" y1="155.4" x2="452.55" y2="160.2" stroke="#000" stroke-width="0.9" stroke-linecap="butt"/>
<line x1="450.75" y1="160.2" x2="454.35" y2="160.2" stroke="#000" stroke-width="0.9" stroke-linecap="butt"/>
<line x1="469.08" y1="160.2" x2="469.08" y2="157.8" stroke="#000" stroke-width="0.9" stroke-linecap="butt"/>
<line x1="467.28" y1="157.8" x2="470.88" y2="157.8" stroke="#000" stroke-width="0.9" stroke-linecap="butt"/>
<line x1="469.08" y1="160.2" x2="469.08" y2="162.6" stroke="#000" stroke-width="0.9" stroke-linecap="butt"/>
<line x1="467.28" y1="162.6" x2="470.88" y2="162.6" stroke="#000" stroke-width="0.9" stroke-linecap="butt"/>
<line x1="314.13" y1="52.2" x2="314.13" y2="34.6" stroke="#000" stroke-width="0.9" stroke-linecap="butt"/>
<line x1="312.33" y1="34.6" x2="315.93" y2="34.6" stroke="#000" stroke-width="0.9" stroke-linecap="butt"/>
<line x1="314.13" y1="52.2" x2="314.13" y2="69.8" stroke="#000" stroke-width="0.9" stroke-linecap="butt"/>
<line x1="312.33" y1="69.8" x2="315.93" y2="69.8" stroke="#000" stroke-width="0.9" stroke-linecap="butt"/>
<line x1="324.46" y1="50.6" x2="324.46" y2="38.6" stroke="#000" stroke-width="0.9" stroke-linecap="butt"/>
<line x1="322.66" y1="38.6" x2="326.26" y2="38.6" stroke="#000" stroke-width="0.9" stroke-linecap="butt"/>
<line x1="324.46" y1="50.6" x2="324.46" y2="62.6" stroke="#000" stroke-width="0.9" stroke-linecap="butt"/>
<line x1="322.66" y1="62.6" x2="326.26" y2="62.6" stroke="#000" stroke-width="0.9" stroke-linecap="butt"/>
<line x1="334.79" y1="54.6" x2="334.79" y2="35.4" stroke="#000" stroke-width="0.9" stroke-linecap="butt"/>
<line x1="332.99" y1="35.4" x2="336.59" y2="35.4" stroke="#000" stroke-width="0.9" stroke-linecap="butt"/>
<line x1="334.79" y1="54.6" x2="334.79" y2="73.8" stroke="#000" stroke-width="0.9" stroke-linecap="butt"/>
<line x1="332.99" y1="73.8" x2="336.59" y2="73.8" stroke="#000" stroke-width="0.9" stroke-linecap="butt"/>
<line x1="345.12" y1="52.2" x2="345.12" y2="37.8" stroke="#000" stroke-width="0.9" stroke-linecap="butt"/>
<line x1="343.32" y1="37.8" x2="346.92" y2="37.8" stroke="#000" stroke-width="0.9" stroke-linecap="butt"/>
<line x1="345.12" y1="52.2" x2="345.12" y2="66.6" stroke="#000" stroke-width="0.9" stroke-linecap="butt"/>
<line x1="343.32" y1="66.6" x2="346.92" y2="66.6" stroke="#000" stroke-width="0.9" stroke-linecap="butt"/>
<line x1="353.38" y1="47.4" x2="353.38" y2="34.6" stroke="#000" stroke-width="0.9" stroke-linecap="butt"/>
<line x1="351.58" y1="34.6" x2="355.18" y2="34.6" stroke="#000" stroke-width="0.9" stroke-linecap="butt"/>
<line x1="353.38" y1="47.4" x2="353.38" y2="60.2" stroke="#000" stroke-width="0.9" stroke-linecap="butt"/>
<line x1="351.58" y1="60.2" x2="355.18" y2="60.2" stroke="#000" stroke-width="0.9" stroke-linecap="butt"/>
<line x1="361.65" y1="52.2" x2="361.65" y2="41" stroke="#000" stroke-width="0.9" stroke-linecap="butt"/>
<line x1="359.85" y1="41" x2="363.45" y2="41" stroke="#000" stroke-width="0.9" stroke-linecap="butt"/>
<line x1="361.65" y1="52.2" x2="361.65" y2="63.4" stroke="#000" stroke-width="0.9" stroke-linecap="butt"/>
<line x1="359.85" y1="63.4" x2="363.45" y2="63.4" stroke="#000" stroke-width="0.9" stroke-linecap="butt"/>
<line x1="369.91" y1="45" x2="369.91" y2="22.6" stroke="#000" stroke-width="0.9" stroke-linecap="butt"/>
<line x1="368.11" y1="22.6" x2="371.71" y2="22.6" stroke="#000" stroke-width="0.9" stroke-linecap="butt"/>
<line x1="369.91" y1="45" x2="369.91" y2="67.4" stroke="#000" stroke-width="0.9" stroke-linecap="butt"/>
<line x1="368.11" y1="67.4" x2="371.71" y2="67.4" stroke="#000" stroke-width="0.9" stroke-linecap="butt"/>
<line x1="376.11" y1="55.4" x2="376.11" y2="31.4" stroke="#000" stroke-width="0.9" stroke-linecap="butt"/>
<line x1="374.31" y1="31.4" x2="377.91" y2="31.4" stroke="#000" stroke-width="0.9" stroke-linecap="butt"/>
<line x1="376.11" y1="55.4" x2="376.11" y2="79.4" stroke="#000" stroke-width="0.9" stroke-linecap="butt"/>
<line x1="374.31" y1="79.4" x2="377.91" y2="79.4" stroke="#000" stroke-width="0.9" stroke-linecap="butt"/>
<line x1="384.37" y1="66.6" x2="384.37" y2="53" stroke="#000" stroke-width="0.9" stroke-linecap="butt"/>
<line x1="382.57" y1="53" x2="386.17" y2="53" stroke="#000" stroke-width="0.9" stroke-linecap="butt"/>
<line x1="384.37" y1="66.6" x2="384.37" y2="80.2" stroke="#000" stroke-width="0.9" stroke-linecap="butt"/>
<line x1="382.57" y1="80.2" x2="386.17" y2="80.2" stroke="#000" stroke-width="0.9" stroke-linecap="butt"/>
<line x1="392.64" y1="60.2" x2="392.64" y2="32.2" stroke="#000" stroke-width="0.9" stroke-linecap="butt"/>
<line x1="390.84" y1="32.2" x2="394.44" y2="32.2" stroke="#000" stroke-width="0.9" stroke-linecap="butt"/>
<line x1="392.64" y1="60.2" x2="392.64" y2="88.2" stroke="#000" stroke-width="0.9" stroke-linecap="butt"/>
<line x1="390.84" y1="88.2" x2="394.44" y2="88.2" stroke="#000" stroke-width="0.9" stroke-linecap="butt"/>
<line x1="396.77" y1="59.4" x2="396.77" y2="37" stroke="#000" stroke-width="0.9" stroke-linecap="butt"/>
<line x1="394.97" y1="37" x2="398.57" y2="37" stroke="#000" stroke-width="0.9" stroke-linecap="butt"/>
<line x1="396.77" y1="59.4" x2="396.77" y2="81.8" stroke="#000" stroke-width="0.9" stroke-linecap="butt"/>
<line x1="394.97" y1="81.8" x2="398.57" y2="81.8" stroke="#000" stroke-width="0.9" stroke-linecap="butt"/>
<line x1="402.97" y1="63.4" x2="402.97" y2="51.4" stroke="#000" stroke-width="0.9" stroke-linecap="butt"/>
<line x1="401.17" y1="51.4" x2="404.77" y2="51.4" stroke="#000" stroke-width="0.9" stroke-linecap="butt"/>
<line x1="402.97" y1="63.4" x2="402.97" y2="75.4" stroke="#000" stroke-width="0.9" stroke-linecap="butt"/>
<line x1="401.17" y1="75.4" x2="404.77" y2="75.4" stroke="#000" stroke-width="0.9" stroke-linecap="butt"/>
<line x1="407.1" y1="75.4" x2="407.1" y2="51.4" stroke="#000" stroke-width="0.9" stroke-linecap="butt"/>
<line x1="405.3" y1="51.4" x2="408.9" y2="51.4" stroke="#000" stroke-width="0.9" stroke-linecap="butt"/>
<line x1="407.1" y1="75.4" x2="407.1" y2="99.4" stroke="#000" stroke-width="0.9" stroke-linecap="butt"/>
<line x1="405.3" y1="99.4" x2="408.9" y2="99.4" stroke="#000" stroke-width="0.9" stroke-linecap="butt"/>
<line x1="415.36" y1="79.8" x2="415.36" y2="67.8" stroke="#000" stroke-width="0.9" stroke-linecap="butt"/>
<line x1="413.56" y1="67.8" x2="417.16" y2="67.8" stroke="#000" stroke-width="0.9" stroke-linecap="butt"/>
<line x1="415.36" y1="79.8" x2="415.36" y2="91.8" stroke="#000" stroke-width="0.9" stroke-linecap="butt"/>
<line x1="413.56" y1="91.8" x2="417.16" y2="91.8" stroke="#000" stroke-width="0.9" stroke-linecap="butt"/>
<line x1="421.56" y1="83.4" x2="421.56" y2="71.4" stroke="#000" stroke-width="0.9" stroke-linecap="butt"/>
<line x1="419.76" y1="71.4" x2="423.36" y2="71.4" stroke="#000" stroke-width="0.9" stroke-linecap="butt"/>
<line x1="421.56" y1="83.4" x2="421.56" y2="95.4" stroke="#000" stroke-width="0.9" stroke-linecap="butt"/>
<line x1="419.76" y1="95.4" x2="423.36" y2="95.4" stroke="#000" stroke-width="0.9" stroke-linecap="butt"/>
<line x1="433.96" y1="110.6" x2="433.96" y2="94.6" stroke="#000" stroke-width="0.9" stroke-linecap="butt"/>
<line x1="432.16" y1="94.6" x2="435.76" y2="94.6" stroke="#000" stroke-width="0.9" stroke-linecap="butt"/>
<line x1="433.96" y1="110.6" x2="433.96" y2="126.6" stroke="#000" stroke-width="0.9" stroke-linecap="butt"/>
<line x1="432.16" y1="126.6" x2="435.76" y2="126.6" stroke="#000" stroke-width="0.9" stroke-linecap="butt"/>
<line x1="442.22" y1="136.2" x2="442.22" y2="124.2" stroke="#000" stroke-width="0.9" stroke-linecap="butt"/>
<line x1="440.42" y1="124.2" x2="444.02" y2="124.2" stroke="#000" stroke-width="0.9" stroke-linecap="butt"/>
<line x1="442.22" y1="136.2" x2="442.22" y2="148.2" stroke="#000" stroke-width="0.9" stroke-linecap="butt"/>
<line x1="440.42" y1="148.2" x2="444.02" y2="148.2" stroke="#000" stroke-width="0.9" stroke-linecap="butt"/>
<line x1="452.55" y1="155.4" x2="452.55" y2="149" stroke="#000" stroke-width="0.9" stroke-linecap="butt"/>
<line x1="450.75" y1="149" x2="454.35" y2="149" stroke="#000" stroke-width="0.9" stroke-linecap="butt"/>
<line x1="452.55" y1="155.4" x2="452.55" y2="161.8" stroke="#000" stroke-width="0.9" stroke-linecap="butt"/>
<line x1="450.75" y1="161.8" x2="454.35" y2="161.8" stroke="#000" stroke-width="0.9" stroke-linecap="butt"/>
<line x1="469.08" y1="160.2" x2="469.08" y2="157.8" stroke="#000" stroke-width="0.9" stroke-linecap="butt"/>
<line x1="467.28" y1="157.8" x2="470.88" y2="157.8" stroke="#000" stroke-width="0.9" stroke-linecap="butt"/>
<line x1="469.08" y1="160.2" x2="469.08" y2="162.6" stroke="#000" stroke-width="0.9" stroke-linecap="butt"/>
<line x1="467.28" y1="162.6" x2="470.88" y2="162.6" stroke="#000" stroke-width="0.9" stroke-linecap="butt"/>
<polyline points="314.13,81.8 324.46,88.2 334.79,101.8 345.12,114.6 353.38,127.8 361.65,137.8 369.91,144.2 376.11,150.6 384.37,155.4 392.64,157.4 396.77,157.8 402.97,158.6 407.1,159 415.36,159 421.56,159.4 433.96,159.8 442.22,160.2 452.55,160.2 469.08,160.2" fill="none" stroke="#000" stroke-width="1.6" stroke-linejoin="round"/>
<polyline points="314.13,61.8 324.46,69 334.79,79.4 345.12,81 353.38,94.6 361.65,112.2 369.91,116.2 376.11,128.2 384.37,140.2 392.64,147.4 396.77,148.2 402.97,153 407.1,155.4 415.36,157.8 421.56,159.4 433.96,159.4 442.22,159.4 452.55,159.4 469.08,160.2" fill="none" stroke="#000" stroke-width="1.6" stroke-dasharray="1,1.2" stroke-linejoin="round"/>
<polyline points="314.13,60.2 324.46,51.4 334.79,56.2 345.12,57 353.38,57.8 361.65,62.6 369.91,65.8 376.11,69 384.37,77 392.64,85 396.77,88.2 402.97,94.6 407.1,103.4 415.36,115.4 421.56,125 433.96,142.6 442.22,151.4 452.55,157.4 469.08,160.2" fill="none" stroke="#000" stroke-width="1.6" stroke-dasharray="4.2,2.2" stroke-linejoin="round"/>
<polyline points="314.13,46.6 324.46,44.2 334.79,53 345.12,47.4 353.38,56.2 361.65,53.8 369.91,64.2 376.11,67.4 384.37,67.4 392.64,68.2 396.77,75.4 402.97,79.4 407.1,92.2 415.36,100.2 421.56,109 433.96,135.4 442.22,149 452.55,155.4 469.08,160.2" fill="none" stroke="#000" stroke-width="1.6" stroke-dasharray="6,1.5,1,1,1,1.5" stroke-linejoin="round"/>
<polyline points="314.13,52.2 324.46,50.6 334.79,54.6 345.12,52.2 353.38,47.4 361.65,52.2 369.91,45 376.11,55.4 384.37,66.6 392.64,60.2 396.77,59.4 402.97,63.4 407.1,75.4 415.36,79.8 421.56,83.4 433.96,110.6 442.22,136.2 452.55,155.4 469.08,160.2" fill="none" stroke="#000" stroke-width="1.6" stroke-dasharray="8.5,3" stroke-linejoin="round"/>
<circle cx="314.13" cy="81.8" r="2.7" fill="#000" stroke="#000" stroke-width="1"/>
<circle cx="324.46" cy="88.2" r="2.7" fill="#000" stroke="#000" stroke-width="1"/>
<circle cx="334.79" cy="101.8" r="2.7" fill="#000" stroke="#000" stroke-width="1"/>
<circle cx="345.12" cy="114.6" r="2.7" fill="#000" stroke="#000" stroke-width="1"/>
<circle cx="353.38" cy="127.8" r="2.7" fill="#000" stroke="#000" stroke-width="1"/>
<circle cx="361.65" cy="137.8" r="2.7" fill="#000" stroke="#000" stroke-width="1"/>
<circle cx="369.91" cy="144.2" r="2.7" fill="#000" stroke="#000" stroke-width="1"/>
<circle cx="376.11" cy="150.6" r="2.7" fill="#000" stroke="#000" stroke-width="1"/>
<circle cx="384.37" cy="155.4" r="2.7" fill="#000" stroke="#000" stroke-width="1"/>
<circle cx="392.64" cy="157.4" r="2.7" fill="#000" stroke="#000" stroke-width="1"/>
<circle cx="396.77" cy="157.8" r="2.7" fill="#000" stroke="#000" stroke-width="1"/>
<circle cx="402.97" cy="158.6" r="2.7" fill="#000" stroke="#000" stroke-width="1"/>
<circle cx="407.1" cy="159" r="2.7" fill="#000" stroke="#000" stroke-width="1"/>
<circle cx="415.36" cy="159" r="2.7" fill="#000" stroke="#000" stroke-width="1"/>
<circle cx="421.56" cy="159.4" r="2.7" fill="#000" stroke="#000" stroke-width="1"/>
<circle cx="433.96" cy="159.8" r="2.7" fill="#000" stroke="#000" stroke-width="1"/>
<circle cx="442.22" cy="160.2" r="2.7" fill="#000" stroke="#000" stroke-width="1"/>
<circle cx="452.55" cy="160.2" r="2.7" fill="#000" stroke="#000" stroke-width="1"/>
<circle cx="469.08" cy="160.2" r="2.7" fill="#000" stroke="#000" stroke-width="1"/>
<polygon points="311.38,59.6 316.88,59.6 314.13,64.55" fill="#000" stroke="#000" stroke-width="1"/>
<polygon points="321.71,66.8 327.21,66.8 324.46,71.75" fill="#000" stroke="#000" stroke-width="1"/>
<polygon points="332.04,77.2 337.54,77.2 334.79,82.15" fill="#000" stroke="#000" stroke-width="1"/>
<polygon points="342.37,78.8 347.87,78.8 345.12,83.75" fill="#000" stroke="#000" stroke-width="1"/>
<polygon points="350.63,92.4 356.14,92.4 353.38,97.35" fill="#000" stroke="#000" stroke-width="1"/>
<polygon points="358.89,110 364.4,110 361.65,114.95" fill="#000" stroke="#000" stroke-width="1"/>
<polygon points="367.16,114 372.67,114 369.91,118.95" fill="#000" stroke="#000" stroke-width="1"/>
<polygon points="373.36,126 378.86,126 376.11,130.95" fill="#000" stroke="#000" stroke-width="1"/>
<polygon points="381.62,138 387.13,138 384.37,142.95" fill="#000" stroke="#000" stroke-width="1"/>
<polygon points="389.88,145.2 395.39,145.2 392.64,150.15" fill="#000" stroke="#000" stroke-width="1"/>
<polygon points="394.02,146 399.52,146 396.77,150.95" fill="#000" stroke="#000" stroke-width="1"/>
<polygon points="400.21,150.8 405.72,150.8 402.97,155.75" fill="#000" stroke="#000" stroke-width="1"/>
<polygon points="404.35,153.2 409.85,153.2 407.1,158.15" fill="#000" stroke="#000" stroke-width="1"/>
<polygon points="412.61,155.6 418.12,155.6 415.36,160.55" fill="#000" stroke="#000" stroke-width="1"/>
<polygon points="418.81,157.2 424.32,157.2 421.56,162.15" fill="#000" stroke="#000" stroke-width="1"/>
<polygon points="431.2,157.2 436.71,157.2 433.96,162.15" fill="#000" stroke="#000" stroke-width="1"/>
<polygon points="439.47,157.2 444.98,157.2 442.22,162.15" fill="#000" stroke="#000" stroke-width="1"/>
<polygon points="449.8,157.2 455.31,157.2 452.55,162.15" fill="#000" stroke="#000" stroke-width="1"/>
<polygon points="466.33,158 471.83,158 469.08,162.95" fill="#000" stroke="#000" stroke-width="1"/>
<rect x="311.65" y="57.72" width="4.97" height="4.97" fill="#000" stroke="#000" stroke-width="1"/>
<rect x="321.98" y="48.92" width="4.97" height="4.97" fill="#000" stroke="#000" stroke-width="1"/>
<rect x="332.31" y="53.72" width="4.97" height="4.97" fill="#000" stroke="#000" stroke-width="1"/>
<rect x="342.64" y="54.52" width="4.97" height="4.97" fill="#000" stroke="#000" stroke-width="1"/>
<rect x="350.9" y="55.32" width="4.97" height="4.97" fill="#000" stroke="#000" stroke-width="1"/>
<rect x="359.16" y="60.12" width="4.97" height="4.97" fill="#000" stroke="#000" stroke-width="1"/>
<rect x="367.43" y="63.32" width="4.97" height="4.97" fill="#000" stroke="#000" stroke-width="1"/>
<rect x="373.63" y="66.52" width="4.97" height="4.97" fill="#000" stroke="#000" stroke-width="1"/>
<rect x="381.89" y="74.52" width="4.97" height="4.97" fill="#000" stroke="#000" stroke-width="1"/>
<rect x="390.15" y="82.52" width="4.97" height="4.97" fill="#000" stroke="#000" stroke-width="1"/>
<rect x="394.29" y="85.72" width="4.97" height="4.97" fill="#000" stroke="#000" stroke-width="1"/>
<rect x="400.48" y="92.12" width="4.97" height="4.97" fill="#000" stroke="#000" stroke-width="1"/>
<rect x="404.62" y="100.92" width="4.97" height="4.97" fill="#000" stroke="#000" stroke-width="1"/>
<rect x="412.88" y="112.92" width="4.97" height="4.97" fill="#000" stroke="#000" stroke-width="1"/>
<rect x="419.08" y="122.52" width="4.97" height="4.97" fill="#000" stroke="#000" stroke-width="1"/>
<rect x="431.47" y="140.12" width="4.97" height="4.97" fill="#000" stroke="#000" stroke-width="1"/>
<rect x="439.74" y="148.92" width="4.97" height="4.97" fill="#000" stroke="#000" stroke-width="1"/>
<rect x="450.07" y="154.92" width="4.97" height="4.97" fill="#000" stroke="#000" stroke-width="1"/>
<rect x="466.6" y="157.72" width="4.97" height="4.97" fill="#000" stroke="#000" stroke-width="1"/>
<polygon points="314.13,43.36 317.37,46.6 314.13,49.84 310.89,46.6" fill="#000" stroke="#000" stroke-width="1"/>
<polygon points="324.46,40.96 327.7,44.2 324.46,47.44 321.22,44.2" fill="#000" stroke="#000" stroke-width="1"/>
<polygon points="334.79,49.76 338.03,53 334.79,56.24 331.55,53" fill="#000" stroke="#000" stroke-width="1"/>
<polygon points="345.12,44.16 348.36,47.4 345.12,50.64 341.88,47.4" fill="#000" stroke="#000" stroke-width="1"/>
<polygon points="353.38,52.96 356.62,56.2 353.38,59.44 350.14,56.2" fill="#000" stroke="#000" stroke-width="1"/>
<polygon points="361.65,50.56 364.89,53.8 361.65,57.04 358.41,53.8" fill="#000" stroke="#000" stroke-width="1"/>
<polygon points="369.91,60.96 373.15,64.2 369.91,67.44 366.67,64.2" fill="#000" stroke="#000" stroke-width="1"/>
<polygon points="376.11,64.16 379.35,67.4 376.11,70.64 372.87,67.4" fill="#000" stroke="#000" stroke-width="1"/>
<polygon points="384.37,64.16 387.61,67.4 384.37,70.64 381.13,67.4" fill="#000" stroke="#000" stroke-width="1"/>
<polygon points="392.64,64.96 395.88,68.2 392.64,71.44 389.4,68.2" fill="#000" stroke="#000" stroke-width="1"/>
<polygon points="396.77,72.16 400.01,75.4 396.77,78.64 393.53,75.4" fill="#000" stroke="#000" stroke-width="1"/>
<polygon points="402.97,76.16 406.21,79.4 402.97,82.64 399.73,79.4" fill="#000" stroke="#000" stroke-width="1"/>
<polygon points="407.1,88.96 410.34,92.2 407.1,95.44 403.86,92.2" fill="#000" stroke="#000" stroke-width="1"/>
<polygon points="415.36,96.96 418.6,100.2 415.36,103.44 412.12,100.2" fill="#000" stroke="#000" stroke-width="1"/>
<polygon points="421.56,105.76 424.8,109 421.56,112.24 418.32,109" fill="#000" stroke="#000" stroke-width="1"/>
<polygon points="433.96,132.16 437.2,135.4 433.96,138.64 430.72,135.4" fill="#000" stroke="#000" stroke-width="1"/>
<polygon points="442.22,145.76 445.46,149 442.22,152.24 438.98,149" fill="#000" stroke="#000" stroke-width="1"/>
<polygon points="452.55,152.16 455.79,155.4 452.55,158.64 449.31,155.4" fill="#000" stroke="#000" stroke-width="1"/>
<polygon points="469.08,156.96 472.32,160.2 469.08,163.44 465.84,160.2" fill="#000" stroke="#000" stroke-width="1"/>
<polygon points="311.38,54.4 316.88,54.4 314.13,49.45" fill="#000" stroke="#000" stroke-width="1"/>
<polygon points="321.71,52.8 327.21,52.8 324.46,47.85" fill="#000" stroke="#000" stroke-width="1"/>
<polygon points="332.04,56.8 337.54,56.8 334.79,51.85" fill="#000" stroke="#000" stroke-width="1"/>
<polygon points="342.37,54.4 347.87,54.4 345.12,49.45" fill="#000" stroke="#000" stroke-width="1"/>
<polygon points="350.63,49.6 356.14,49.6 353.38,44.65" fill="#000" stroke="#000" stroke-width="1"/>
<polygon points="358.89,54.4 364.4,54.4 361.65,49.45" fill="#000" stroke="#000" stroke-width="1"/>
<polygon points="367.16,47.2 372.67,47.2 369.91,42.25" fill="#000" stroke="#000" stroke-width="1"/>
<polygon points="373.36,57.6 378.86,57.6 376.11,52.65" fill="#000" stroke="#000" stroke-width="1"/>
<polygon points="381.62,68.8 387.13,68.8 384.37,63.85" fill="#000" stroke="#000" stroke-width="1"/>
<polygon points="389.88,62.4 395.39,62.4 392.64,57.45" fill="#000" stroke="#000" stroke-width="1"/>
<polygon points="394.02,61.6 399.52,61.6 396.77,56.65" fill="#000" stroke="#000" stroke-width="1"/>
<polygon points="400.21,65.6 405.72,65.6 402.97,60.65" fill="#000" stroke="#000" stroke-width="1"/>
<polygon points="404.35,77.6 409.85,77.6 407.1,72.65" fill="#000" stroke="#000" stroke-width="1"/>
<polygon points="412.61,82 418.12,82 415.36,77.05" fill="#000" stroke="#000" stroke-width="1"/>
<polygon points="418.81,85.6 424.32,85.6 421.56,80.65" fill="#000" stroke="#000" stroke-width="1"/>
<polygon points="431.2,112.8 436.71,112.8 433.96,107.85" fill="#000" stroke="#000" stroke-width="1"/>
<polygon points="439.47,138.4 444.98,138.4 442.22,133.45" fill="#000" stroke="#000" stroke-width="1"/>
<polygon points="449.8,157.6 455.31,157.6 452.55,152.65" fill="#000" stroke="#000" stroke-width="1"/>
<polygon points="466.33,162.4 471.83,162.4 469.08,157.45" fill="#000" stroke="#000" stroke-width="1"/>
<line x1="440.4" y1="44.4" x2="478.2" y2="44.4" stroke="#000" stroke-width="1.5" stroke-linecap="butt"/>
<circle cx="459.6" cy="44.4" r="2.7" fill="#000" stroke="#000" stroke-width="1"/>
<text x="486.6" y="47.4" font-size="8.4" text-anchor="start" font-weight="normal" fill="#000" stroke="#000" stroke-width="0.3">tg 1m</text>
<line x1="440.4" y1="54.3" x2="478.2" y2="54.3" stroke="#000" stroke-width="1.5" stroke-dasharray="1,1.2" stroke-linecap="butt"/>
<polygon points="456.85,52.1 462.35,52.1 459.6,57.05" fill="#000" stroke="#000" stroke-width="1"/>
<text x="486.6" y="57.3" font-size="8.4" text-anchor="start" font-weight="normal" fill="#000" stroke="#000" stroke-width="0.3">tg 2m</text>
<line x1="440.4" y1="64.1" x2="478.2" y2="64.1" stroke="#000" stroke-width="1.5" stroke-dasharray="4.2,2.2" stroke-linecap="butt"/>
<rect x="457.12" y="61.62" width="4.97" height="4.97" fill="#000" stroke="#000" stroke-width="1"/>
<text x="486.6" y="67.1" font-size="8.4" text-anchor="start" font-weight="normal" fill="#000" stroke="#000" stroke-width="0.3">tg 4m</text>
<line x1="440.4" y1="73.8" x2="478.2" y2="73.8" stroke="#000" stroke-width="1.5" stroke-dasharray="6,1.5,1,1,1,1.5" stroke-linecap="butt"/>
<polygon points="459.6,70.56 462.84,73.8 459.6,77.04 456.36,73.8" fill="#000" stroke="#000" stroke-width="1"/>
<text x="486.6" y="76.8" font-size="8.4" text-anchor="start" font-weight="normal" fill="#000" stroke="#000" stroke-width="0.3">tg 6m</text>
<line x1="440.4" y1="83.6" x2="478.2" y2="83.6" stroke="#000" stroke-width="1.5" stroke-dasharray="8.5,3" stroke-linecap="butt"/>
<polygon points="456.85,85.8 462.35,85.8 459.6,80.85" fill="#000" stroke="#000" stroke-width="1"/>
<text x="486.6" y="86.6" font-size="8.4" text-anchor="start" font-weight="normal" fill="#000" stroke="#000" stroke-width="0.3">tg 8m</text>
<text x="2" y="206.6" font-size="25" text-anchor="start" font-weight="bold" fill="#000" stroke="#000" stroke-width="0.3">C</text>
<line x1="36.9" y1="213" x2="36.6" y2="361.8" stroke="#222" stroke-width="1" stroke-linecap="butt"/>
<line x1="36.6" y1="361.4" x2="250.6" y2="362.3" stroke="#222" stroke-width="1" stroke-linecap="butt"/>
<line x1="33.6" y1="361.4" x2="36.8" y2="361.4" stroke="#222" stroke-width="1" stroke-linecap="butt"/>
<text x="31" y="364.8" font-size="8.2" text-anchor="end" font-weight="normal" fill="#000" stroke="#000" stroke-width="0.3">0</text>
<line x1="33.6" y1="334.24" x2="36.8" y2="334.24" stroke="#222" stroke-width="1" stroke-linecap="butt"/>
<text x="31" y="337.64" font-size="8.2" text-anchor="end" font-weight="normal" fill="#000" stroke="#000" stroke-width="0.3">20</text>
<line x1="33.6" y1="307.08" x2="36.8" y2="307.08" stroke="#222" stroke-width="1" stroke-linecap="butt"/>
<text x="31" y="310.48" font-size="8.2" text-anchor="end" font-weight="normal" fill="#000" stroke="#000" stroke-width="0.3">40</text>
<line x1="33.6" y1="279.92" x2="36.8" y2="279.92" stroke="#222" stroke-width="1" stroke-linecap="butt"/>
<text x="31" y="283.32" font-size="8.2" text-anchor="end" font-weight="normal" fill="#000" stroke="#000" stroke-width="0.3">60</text>
<line x1="33.6" y1="252.76" x2="36.8" y2="252.76" stroke="#222" stroke-width="1" stroke-linecap="butt"/>
<text x="31" y="256.16" font-size="8.2" text-anchor="end" font-weight="normal" fill="#000" stroke="#000" stroke-width="0.3">80</text>
<line x1="33.6" y1="225.6" x2="36.8" y2="225.6" stroke="#222" stroke-width="1" stroke-linecap="butt"/>
<text x="31" y="229" font-size="8.2" text-anchor="end" font-weight="normal" fill="#000" stroke="#000" stroke-width="0.3">100</text>
<line x1="54.5" y1="323.38" x2="54.5" y2="315.5" stroke="#000" stroke-width="1" stroke-linecap="butt"/>
<line x1="52.3" y1="315.5" x2="56.7" y2="315.5" stroke="#000" stroke-width="1" stroke-linecap="butt"/>
<rect x="45.6" y="323.38" width="17.8" height="38.02" fill="#fff" stroke="#000" stroke-width="1"/>
<line x1="72.7" y1="248.96" x2="72.7" y2="216.09" stroke="#000" stroke-width="1" stroke-linecap="butt"/>
<line x1="70.5" y1="216.09" x2="74.9" y2="216.09" stroke="#000" stroke-width="1" stroke-linecap="butt"/>
<rect x="63.4" y="248.96" width="18.6" height="112.84" fill="#000"/>
<text x="73.6" y="213.49" font-size="7.6" text-anchor="middle" font-weight="bold" fill="#000" stroke="#000" stroke-width="0.55" font-style="italic">#</text>
<text x="54.2" y="373.8" font-size="8.2" text-anchor="middle" font-weight="normal" fill="#000" stroke="#000" stroke-width="0.3">wt</text>
<text x="72" y="373.8" font-size="8.2" text-anchor="middle" font-weight="normal" fill="#000" stroke="#000" stroke-width="0.3">tg</text>
<text x="62.6" y="384.8" font-size="8.2" text-anchor="middle" font-weight="normal" fill="#000" stroke="#000" stroke-width="0.3">2</text>
<line x1="107.9" y1="323.38" x2="107.9" y2="315.91" stroke="#000" stroke-width="1" stroke-linecap="butt"/>
<line x1="105.7" y1="315.91" x2="110.1" y2="315.91" stroke="#000" stroke-width="1" stroke-linecap="butt"/>
<rect x="99" y="323.38" width="17.8" height="38.02" fill="#fff" stroke="#000" stroke-width="1"/>
<line x1="126.1" y1="270.01" x2="126.1" y2="258.06" stroke="#000" stroke-width="1" stroke-linecap="butt"/>
<line x1="123.9" y1="258.06" x2="128.3" y2="258.06" stroke="#000" stroke-width="1" stroke-linecap="butt"/>
<rect x="116.8" y="270.01" width="18.6" height="91.79" fill="#000"/>
<text x="127" y="255.46" font-size="7.6" text-anchor="middle" font-weight="bold" fill="#000" stroke="#000" stroke-width="0.55" font-style="italic">#</text>
<text x="107.6" y="373.8" font-size="8.2" text-anchor="middle" font-weight="normal" fill="#000" stroke="#000" stroke-width="0.3">wt</text>
<text x="125.4" y="373.8" font-size="8.2" text-anchor="middle" font-weight="normal" fill="#000" stroke="#000" stroke-width="0.3">tg</text>
<text x="116" y="384.8" font-size="8.2" text-anchor="middle" font-weight="normal" fill="#000" stroke="#000" stroke-width="0.3">4</text>
<line x1="161.3" y1="323.65" x2="161.3" y2="316.04" stroke="#000" stroke-width="1" stroke-linecap="butt"/>
<line x1="159.1" y1="316.04" x2="163.5" y2="316.04" stroke="#000" stroke-width="1" stroke-linecap="butt"/>
<rect x="152.4" y="323.65" width="17.8" height="37.75" fill="#fff" stroke="#000" stroke-width="1"/>
<line x1="179.5" y1="281.55" x2="179.5" y2="253.03" stroke="#000" stroke-width="1" stroke-linecap="butt"/>
<line x1="177.3" y1="253.03" x2="181.7" y2="253.03" stroke="#000" stroke-width="1" stroke-linecap="butt"/>
<rect x="170.2" y="281.55" width="18.6" height="80.25" fill="#000"/>
<text x="180.4" y="250.43" font-size="7.6" text-anchor="middle" font-weight="bold" fill="#000" stroke="#000" stroke-width="0.55" font-style="italic">#</text>
<text x="161" y="373.8" font-size="8.2" text-anchor="middle" font-weight="normal" fill="#000" stroke="#000" stroke-width="0.3">wt</text>
<text x="178.8" y="373.8" font-size="8.2" text-anchor="middle" font-weight="normal" fill="#000" stroke="#000" stroke-width="0.3">tg</text>
<text x="169.4" y="384.8" font-size="8.2" text-anchor="middle" font-weight="normal" fill="#000" stroke="#000" stroke-width="0.3">6</text>
<line x1="214.7" y1="324.05" x2="214.7" y2="316.59" stroke="#000" stroke-width="1" stroke-linecap="butt"/>
<line x1="212.5" y1="316.59" x2="216.9" y2="316.59" stroke="#000" stroke-width="1" stroke-linecap="butt"/>
<rect x="205.8" y="324.05" width="17.8" height="37.35" fill="#fff" stroke="#000" stroke-width="1"/>
<line x1="232.9" y1="256.97" x2="232.9" y2="223.97" stroke="#000" stroke-width="1" stroke-linecap="butt"/>
<line x1="230.7" y1="223.97" x2="235.1" y2="223.97" stroke="#000" stroke-width="1" stroke-linecap="butt"/>
<rect x="223.6" y="256.97" width="18.6" height="104.83" fill="#000"/>
<text x="233.8" y="221.37" font-size="7.6" text-anchor="middle" font-weight="bold" fill="#000" stroke="#000" stroke-width="0.55" font-style="italic">#</text>
<text x="214.4" y="373.8" font-size="8.2" text-anchor="middle" font-weight="normal" fill="#000" stroke="#000" stroke-width="0.3">wt</text>
<text x="232.2" y="373.8" font-size="8.2" text-anchor="middle" font-weight="normal" fill="#000" stroke="#000" stroke-width="0.3">tg</text>
<text x="222.8" y="384.8" font-size="8.2" text-anchor="middle" font-weight="normal" fill="#000" stroke="#000" stroke-width="0.3">8</text>
<text x="137" y="394.4" font-size="8.2" text-anchor="middle" font-weight="normal" fill="#000" stroke="#000" stroke-width="0.3">Age [mo]</text>
<text x="9.6" y="291.6" font-size="8.35" text-anchor="middle" font-weight="normal" fill="#000" stroke="#000" stroke-width="0.12" transform="rotate(-90 9.6 291.6)">Activated Partial Thromboplastin Time [s]</text>
<text x="276" y="207.2" font-size="25" text-anchor="start" font-weight="bold" fill="#000" stroke="#000" stroke-width="0.3">D</text>
<line x1="302.7" y1="221" x2="302.3" y2="364.2" stroke="#222" stroke-width="1" stroke-linecap="butt"/>
<line x1="302.3" y1="363.6" x2="504.2" y2="364.6" stroke="#222" stroke-width="1" stroke-linecap="butt"/>
<line x1="299.3" y1="364" x2="302.5" y2="364" stroke="#222" stroke-width="1" stroke-linecap="butt"/>
<text x="296.6" y="367.4" font-size="8.2" text-anchor="end" font-weight="normal" fill="#000" stroke="#000" stroke-width="0.3">0</text>
<line x1="299.3" y1="301.6" x2="302.5" y2="301.6" stroke="#222" stroke-width="1" stroke-linecap="butt"/>
<text x="296.6" y="305" font-size="8.2" text-anchor="end" font-weight="normal" fill="#000" stroke="#000" stroke-width="0.3">50</text>
<line x1="299.3" y1="239.2" x2="302.5" y2="239.2" stroke="#222" stroke-width="1" stroke-linecap="butt"/>
<text x="296.6" y="242.6" font-size="8.2" text-anchor="end" font-weight="normal" fill="#000" stroke="#000" stroke-width="0.3">100</text>
<line x1="318.9" y1="342.53" x2="318.9" y2="339.66" stroke="#000" stroke-width="1" stroke-linecap="butt"/>
<line x1="316.7" y1="339.66" x2="321.1" y2="339.66" stroke="#000" stroke-width="1" stroke-linecap="butt"/>
<rect x="310.4" y="342.53" width="17" height="21.47" fill="#fff" stroke="#000" stroke-width="1"/>
<rect x="327.4" y="239.57" width="17.6" height="124.83" fill="#000"/>
<text x="336.4" y="237.17" font-size="8" text-anchor="middle" font-weight="bold" fill="#000" stroke="#000" stroke-width="0.55" font-style="italic">#</text>
<text x="319" y="376.2" font-size="8.2" text-anchor="middle" font-weight="normal" fill="#000" stroke="#000" stroke-width="0.3">wt</text>
<text x="336" y="376.2" font-size="8.2" text-anchor="middle" font-weight="normal" fill="#000" stroke="#000" stroke-width="0.3">tg</text>
<text x="327.8" y="387.6" font-size="8.2" text-anchor="middle" font-weight="normal" fill="#000" stroke="#000" stroke-width="0.3">2</text>
<line x1="369.3" y1="343.03" x2="369.3" y2="339.91" stroke="#000" stroke-width="1" stroke-linecap="butt"/>
<line x1="367.1" y1="339.91" x2="371.5" y2="339.91" stroke="#000" stroke-width="1" stroke-linecap="butt"/>
<rect x="360.8" y="343.03" width="17" height="20.97" fill="#fff" stroke="#000" stroke-width="1"/>
<line x1="386.6" y1="279.01" x2="386.6" y2="253.05" stroke="#000" stroke-width="1" stroke-linecap="butt"/>
<line x1="384.4" y1="253.05" x2="388.8" y2="253.05" stroke="#000" stroke-width="1" stroke-linecap="butt"/>
<rect x="377.8" y="279.01" width="17.6" height="85.39" fill="#000"/>
<text x="386.8" y="250.65" font-size="8" text-anchor="middle" font-weight="bold" fill="#000" stroke="#000" stroke-width="0.55" font-style="italic">#</text>
<text x="369.4" y="376.2" font-size="8.2" text-anchor="middle" font-weight="normal" fill="#000" stroke="#000" stroke-width="0.3">wt</text>
<text x="386.4" y="376.2" font-size="8.2" text-anchor="middle" font-weight="normal" fill="#000" stroke="#000" stroke-width="0.3">tg</text>
<text x="378.2" y="387.6" font-size="8.2" text-anchor="middle" font-weight="normal" fill="#000" stroke="#000" stroke-width="0.3">4</text>
<line x1="419.7" y1="343.41" x2="419.7" y2="340.29" stroke="#000" stroke-width="1" stroke-linecap="butt"/>
<line x1="417.5" y1="340.29" x2="421.9" y2="340.29" stroke="#000" stroke-width="1" stroke-linecap="butt"/>
<rect x="411.2" y="343.41" width="17" height="20.59" fill="#fff" stroke="#000" stroke-width="1"/>
<rect x="428.2" y="240.45" width="17.6" height="123.95" fill="#000"/>
<text x="437.2" y="238.05" font-size="8" text-anchor="middle" font-weight="bold" fill="#000" stroke="#000" stroke-width="0.55" font-style="italic">#</text>
<text x="419.8" y="376.2" font-size="8.2" text-anchor="middle" font-weight="normal" fill="#000" stroke="#000" stroke-width="0.3">wt</text>
<text x="436.8" y="376.2" font-size="8.2" text-anchor="middle" font-weight="normal" fill="#000" stroke="#000" stroke-width="0.3">tg</text>
<text x="428.6" y="387.6" font-size="8.2" text-anchor="middle" font-weight="normal" fill="#000" stroke="#000" stroke-width="0.3">6</text>
<line x1="470.1" y1="343.66" x2="470.1" y2="340.54" stroke="#000" stroke-width="1" stroke-linecap="butt"/>
<line x1="467.9" y1="340.54" x2="472.3" y2="340.54" stroke="#000" stroke-width="1" stroke-linecap="butt"/>
<rect x="461.6" y="343.66" width="17" height="20.34" fill="#fff" stroke="#000" stroke-width="1"/>
<rect x="478.6" y="240.95" width="17.6" height="123.45" fill="#000"/>
<text x="487.6" y="238.55" font-size="8" text-anchor="middle" font-weight="bold" fill="#000" stroke="#000" stroke-width="0.55" font-style="italic">#</text>
<text x="470.2" y="376.2" font-size="8.2" text-anchor="middle" font-weight="normal" fill="#000" stroke="#000" stroke-width="0.3">wt</text>
<text x="487.2" y="376.2" font-size="8.2" text-anchor="middle" font-weight="normal" fill="#000" stroke="#000" stroke-width="0.3">tg</text>
<text x="479" y="387.6" font-size="8.2" text-anchor="middle" font-weight="normal" fill="#000" stroke="#000" stroke-width="0.3">8</text>
<text x="396" y="397" font-size="8.2" text-anchor="middle" font-weight="normal" fill="#000" stroke="#000" stroke-width="0.3">Age [mo]</text>
<text x="280" y="296.6" font-size="8.2" text-anchor="middle" font-weight="normal" fill="#000" stroke="#000" stroke-width="0.15" transform="rotate(-90 280 296.6)">Thrombin Clotting Time [s]</text>
</svg></div>
</body></html>
